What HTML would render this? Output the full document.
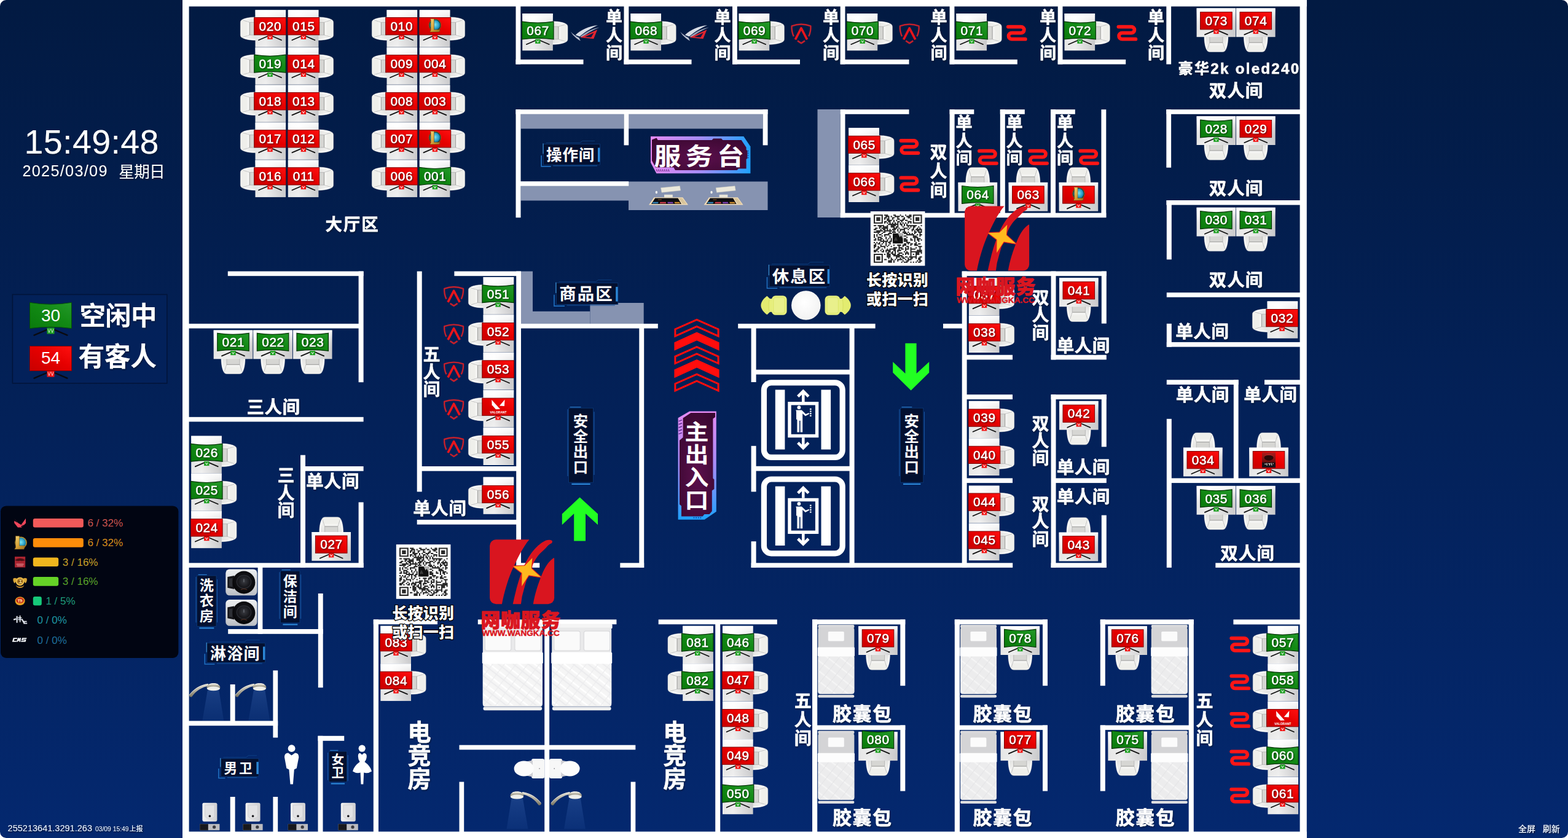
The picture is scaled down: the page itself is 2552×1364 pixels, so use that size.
<!DOCTYPE html>
<html lang="zh-CN"><head><meta charset="utf-8"><title>网咖座位图</title>
<style>
html,body{margin:0;padding:0;background:#fff;}
body{width:2552px;height:1364px;overflow:hidden;font-family:"Liberation Sans",sans-serif;}
#root{position:relative;width:2552px;height:1364px;overflow:hidden;border-radius:10px;background:linear-gradient(#021a42,#04286f);}
svg{position:absolute;left:0;top:0;}
.sn text{font-family:"Liberation Sans",sans-serif;font-size:20.7px;letter-spacing:.7px;fill:#fff;text-anchor:middle;stroke:#fff;stroke-width:.45px;}
.lp text{font-family:"Liberation Sans",sans-serif;fill:#fff;}
.zh{font-family:"Liberation Sans","Noto Sans CJK SC",sans-serif;font-weight:bold;fill:#fff;}
</style></head><body><div id="root">
<svg width="2552" height="1364" viewBox="0 0 2552 1364">
<defs>
<linearGradient id="bg" x1="0" y1="0" x2="0" y2="1"><stop offset="0" stop-color="#021a42"/><stop offset="1" stop-color="#04286f"/></linearGradient>
<linearGradient id="mr" x1="0" y1="1" x2="1" y2="0"><stop offset="0" stop-color="#c80000"/><stop offset=".55" stop-color="#e60000"/><stop offset="1" stop-color="#ff1010"/></linearGradient>
<linearGradient id="mg" x1="0" y1="1" x2="1" y2="0"><stop offset="0" stop-color="#0a7a0c"/><stop offset=".55" stop-color="#128a14"/><stop offset="1" stop-color="#24982a"/></linearGradient>
<linearGradient id="dk" x1="0" y1="0" x2="1" y2="0"><stop offset="0" stop-color="#f6f6f6"/><stop offset=".35" stop-color="#fdfdfd"/><stop offset="1" stop-color="#d6d6d8"/></linearGradient>
<linearGradient id="dv" x1="0" y1="0" x2="0" y2="1"><stop offset="0" stop-color="#fff" stop-opacity=".9"/><stop offset=".3" stop-color="#fff" stop-opacity=".2"/><stop offset="1" stop-color="#000" stop-opacity=".05"/></linearGradient>
<linearGradient id="ch" x1="0" y1="0" x2="0" y2="1"><stop offset="0" stop-color="#dcdcda"/><stop offset=".5" stop-color="#ececea"/><stop offset="1" stop-color="#fafaf8"/></linearGradient>
<filter id="ts" x="-5%" y="-5%" width="110%" height="110%"><feDropShadow dx="1" dy="1" stdDeviation="0.8" flood-color="#000" flood-opacity=".75"/></filter>
<filter id="ls" x="-5%" y="-5%" width="110%" height="110%"><feDropShadow dx="1" dy="1.5" stdDeviation="1" flood-color="#000820" flood-opacity=".6"/></filter>

<g id="chair">
<path d="M-19.4 -8 L-19.4 2 C-19.2 10 -17.8 17 -15.4 21.5 C-14.2 24 -12.4 24.7 -10 24.7 L10 24.7 C12.4 24.7 14.2 24 15.4 21.5 C17.8 17 19.2 10 19.4 2 L19.4 -8 Z" fill="url(#ch)" stroke="#c4c4c2" stroke-width=".6"/>
<path d="M-10.6 -8 L-10.6 9.6 L-14.4 20.8 C-13.6 22.8 -12.2 23.4 -10 23.4 L10 23.4 C12.2 23.4 13.6 22.8 14.4 20.8 L10.6 9.6 L10.6 -8 Z" fill="#efefeb"/>
<path d="M-10.6 -8 L-10.6 9.6 L10.6 9.6 L10.6 -8 Z" fill="#d6d6d3"/>
<path d="M-10.6 9.6 L10.6 9.6" fill="none" stroke="#8c8c8c" stroke-width="1.1" stroke-opacity=".75"/>
<path d="M-10.6 -8 L-10.6 9.6 L-14.4 20.8 M10.6 -8 L10.6 9.6 L14.4 20.8" fill="none" stroke="#9a9a9c" stroke-width=".8" stroke-opacity=".7"/>
<path d="M-10.6 10.6 L10.6 10.6 L12 14 L-12 14Z" fill="#fff" fill-opacity=".35"/>
<path d="M-18.2 -8 L-18.2 3 C-17.9 10 -16.9 16 -14.9 20" fill="none" stroke="#fff" stroke-width="1.8" stroke-opacity=".85"/>
<path d="M18.2 -8 L18.2 3 C17.9 10 16.9 16 14.9 20" fill="none" stroke="#fff" stroke-width="1.8" stroke-opacity=".85"/>
</g>

<g id="stR"><path d="M-1 .5 L-18.5 8 M1 .5 L18.5 8" stroke="#111" stroke-width="1.7" fill="none" stroke-linecap="round"/><rect x="-4.2" y="-.5" width="8.4" height="7.2" fill="#f01414"/><path d="M-1.8 1.6 L0 5 L1.8 1.6" stroke="#fff" stroke-width="1" fill="none"/></g>
<g id="stG"><path d="M-1 .5 L-18.5 8 M1 .5 L18.5 8" stroke="#111" stroke-width="1.7" fill="none" stroke-linecap="round"/><rect x="-4.2" y="-.5" width="8.4" height="7.2" fill="#1fa022"/><path d="M-1.8 1.6 L0 5 L1.8 1.6" stroke="#fff" stroke-width="1" fill="none"/></g>

<g id="rog">
<path d="M0 11.3 C3.5 17 8.5 22.2 16 26.4 L13.6 21.4 C8.4 19 3.8 15.2 0 11.3Z" fill="#b9bfd0"/>
<path d="M7.8 16.8 C16 8.6 30 2 44.2 .7 C35.5 4.6 24.5 10.4 14.6 19.4 Z" fill="#d9dde6"/>
<path d="M15.6 19.6 C25 11 36 6.2 47 4.2 C38 8 28.4 12.6 18.4 21 Z" fill="#9aa1b6"/>
<path d="M15.6 20.8 L43.4 8 L37.4 23 Z M23 20 L33.4 20.6 L37.6 13.2 Z" fill="#e3252f" fill-rule="evenodd"/>
</g>
<g id="agon" fill="none" stroke-linejoin="round">
<path d="M3.8 21.5 C1.2 16 .3 10 .6 4.6 Q16 -.9 31.4 4.6 C31.7 10 30.8 16 28.2 21.5" stroke="#c3202c" stroke-width="2.4"/>
<path d="M6.4 26.6 L16 8.2 L25.6 26.6" stroke="#e8151c" stroke-width="3.7" stroke-linejoin="round"/>
<path d="M10 28.6 L16 32.6 L22 28.6" stroke="#c3202c" stroke-width="2.6"/>
</g>
<path id="zow" d="M2.6 3.2 H23.6 A5 5 0 0 1 23.6 13.2 H8.4 A5.05 5.05 0 0 0 8.4 23.3 H30.6" fill="none" stroke="#ff1616" stroke-width="5.8" stroke-linecap="round"/>
<radialGradient id="lolb" cx=".5" cy=".45" r=".6"><stop offset="0" stop-color="#7fe6f2"/><stop offset=".6" stop-color="#2aa0c8"/><stop offset="1" stop-color="#0c587c"/></radialGradient>
<linearGradient id="lolg" x1="0" y1="0" x2="1" y2="1"><stop offset="0" stop-color="#f6d878"/><stop offset=".5" stop-color="#d9a33a"/><stop offset="1" stop-color="#9a6c1c"/></linearGradient>

<g id="lol"><circle cx="0" cy="-1.8" r="10.2" fill="#1c2a1c"/><circle cx="0" cy="-1.8" r="9.7" fill="none" stroke="#b9963c" stroke-width=".6"/><circle cx="0" cy="-1.8" r="8.4" fill="url(#lolb)"/>
<path d="M-7.9 -12.2 H-1.4 V5.6 H8.8 L6.8 9.3 H-8.3 L-6.8 6.6 V-10.6 Z" fill="url(#lolg)" stroke="#5a3c0e" stroke-width=".5"/></g>
<g id="val"><path d="M-10.4 -11.4 L3.4 3.7 L-3.6 4 L-10 -2.9Z" fill="#fff"/><path d="M10.9 -11.6 L10.3 -1.3 L2.3 -1.7Z" fill="#fff"/>
<text x=".4" y="11" font-family="Liberation Sans,sans-serif" font-weight="bold" font-size="5" fill="#fff" text-anchor="middle" textLength="27" lengthAdjust="spacingAndGlyphs">VALORANT</text></g>
<linearGradient id="nrkg" x1="0" y1="0" x2="0" y2="1"><stop offset="0" stop-color="#b01c1c"/><stop offset=".62" stop-color="#6a1010"/><stop offset=".7" stop-color="#1a1016"/><stop offset="1" stop-color="#14141c"/></linearGradient>
<g id="nrk"><rect x="-11" y="-12.4" width="22" height="24.8" fill="url(#nrkg)"/><ellipse cx="0" cy="-3.6" rx="7.5" ry="4.6" fill="#2a0808"/><path d="M-8 -6 Q0 -12 8 -6 Q4 -8 0 -8 Q-4 -8 -8 -6Z" fill="#c03030"/>
<path d="M-7 6.5 h3 M-3 5 v4 M-1 6 h3 l-1 3 M4 5 l1 4 M6.5 6 h1.5" stroke="#f0e8e0" stroke-width="1.1" fill="none"/></g>

<linearGradient id="pbh" x1="0" y1="0" x2="1" y2="0"><stop offset="0" stop-color="#e58af2"/><stop offset=".5" stop-color="#a58cf6"/><stop offset="1" stop-color="#1ea2ff"/></linearGradient>
<linearGradient id="pbv" x1="0" y1="0" x2="0" y2="1"><stop offset="0" stop-color="#e58af2"/><stop offset=".5" stop-color="#a58cf6"/><stop offset="1" stop-color="#1ea2ff"/></linearGradient>
<radialGradient id="pf" cx=".5" cy=".6" r=".7"><stop offset="0" stop-color="#5a0f4c"/><stop offset="1" stop-color="#3a0830"/></radialGradient>
<radialGradient id="tb" cx=".45" cy=".4" r=".6"><stop offset="0" stop-color="#ffffff"/><stop offset="1" stop-color="#f2f2f2"/></radialGradient>
<g id="ych"><path d="M10 -15.2 C4 -11 0 -5.4 0 0 C0 5.4 4 11 10 15.2 L15 10.6 V-10.6 Z" fill="#e3ec70"/>
<rect x="12.6" y="-10.8" width="10" height="21.6" fill="#e6ee7a"/>
<rect x="17.6" y="-15.8" width="24.6" height="31.6" rx="6.4" fill="#e7ef80"/>
<rect x="20.4" y="-12.8" width="18.4" height="25.6" rx="3.6" fill="#e9f08c" stroke="#d9e463" stroke-width=".8"/>
<path d="M13.6 -10 C12.4 -5 12.4 5 13.6 10" fill="none" stroke="#d3de5c" stroke-width=".9"/></g><g id="qr"><rect x="0" y="0" width="88.6" height="88.6" fill="#fff"/><g transform="translate(5.2 5.2) scale(2.1243)"><path d="M0 0h7v1h-7zM8 0h3v1h-3zM15 0h2v1h-2zM20 0h1v1h-1zM24 0h1v1h-1zM27 0h2v1h-2zM30 0h7v1h-7zM0 1h1v1h-1zM6 1h1v1h-1zM9 1h3v1h-3zM13 1h1v1h-1zM16 1h4v1h-4zM21 1h2v1h-2zM25 1h4v1h-4zM30 1h1v1h-1zM36 1h1v1h-1zM0 2h1v1h-1zM2 2h3v1h-3zM6 2h1v1h-1zM8 2h2v1h-2zM11 2h1v1h-1zM14 2h2v1h-2zM18 2h1v1h-1zM23 2h1v1h-1zM26 2h2v1h-2zM30 2h1v1h-1zM32 2h3v1h-3zM36 2h1v1h-1zM0 3h1v1h-1zM2 3h3v1h-3zM6 3h1v1h-1zM8 3h1v1h-1zM10 3h2v1h-2zM14 3h1v1h-1zM18 3h2v1h-2zM22 3h2v1h-2zM28 3h1v1h-1zM30 3h1v1h-1zM32 3h3v1h-3zM36 3h1v1h-1zM0 4h1v1h-1zM2 4h3v1h-3zM6 4h1v1h-1zM10 4h4v1h-4zM15 4h1v1h-1zM17 4h1v1h-1zM20 4h3v1h-3zM24 4h2v1h-2zM30 4h1v1h-1zM32 4h3v1h-3zM36 4h1v1h-1zM0 5h1v1h-1zM6 5h1v1h-1zM8 5h2v1h-2zM11 5h2v1h-2zM15 5h1v1h-1zM18 5h2v1h-2zM21 5h1v1h-1zM26 5h3v1h-3zM30 5h1v1h-1zM36 5h1v1h-1zM0 6h7v1h-7zM8 6h1v1h-1zM10 6h1v1h-1zM12 6h1v1h-1zM14 6h1v1h-1zM16 6h1v1h-1zM18 6h1v1h-1zM20 6h1v1h-1zM22 6h1v1h-1zM24 6h1v1h-1zM26 6h1v1h-1zM28 6h1v1h-1zM30 6h7v1h-7zM11 7h8v1h-8zM20 7h2v1h-2zM23 7h1v1h-1zM25 7h1v1h-1zM0 8h2v1h-2zM3 8h5v1h-5zM10 8h1v1h-1zM13 8h4v1h-4zM18 8h1v1h-1zM21 8h1v1h-1zM23 8h1v1h-1zM25 8h8v1h-8zM36 8h1v1h-1zM4 9h2v1h-2zM7 9h4v1h-4zM13 9h3v1h-3zM17 9h2v1h-2zM22 9h1v1h-1zM26 9h1v1h-1zM28 9h1v1h-1zM30 9h2v1h-2zM34 9h1v1h-1zM1 10h2v1h-2zM4 10h1v1h-1zM6 10h5v1h-5zM15 10h3v1h-3zM19 10h1v1h-1zM23 10h3v1h-3zM27 10h1v1h-1zM30 10h1v1h-1zM33 10h1v1h-1zM35 10h1v1h-1zM0 11h2v1h-2zM5 11h1v1h-1zM7 11h2v1h-2zM10 11h1v1h-1zM12 11h1v1h-1zM14 11h3v1h-3zM18 11h1v1h-1zM20 11h4v1h-4zM26 11h1v1h-1zM29 11h2v1h-2zM32 11h5v1h-5zM2 12h5v1h-5zM8 12h6v1h-6zM15 12h1v1h-1zM18 12h1v1h-1zM20 12h1v1h-1zM23 12h1v1h-1zM29 12h1v1h-1zM31 12h1v1h-1zM33 12h2v1h-2zM36 12h1v1h-1zM0 13h5v1h-5zM7 13h2v1h-2zM12 13h1v1h-1zM14 13h3v1h-3zM19 13h1v1h-1zM22 13h3v1h-3zM26 13h1v1h-1zM31 13h2v1h-2zM34 13h3v1h-3zM3 14h1v1h-1zM6 14h1v1h-1zM11 14h3v1h-3zM23 14h3v1h-3zM27 14h1v1h-1zM29 14h1v1h-1zM31 14h1v1h-1zM35 14h1v1h-1zM0 15h1v1h-1zM2 15h1v1h-1zM4 15h2v1h-2zM8 15h4v1h-4zM25 15h6v1h-6zM33 15h1v1h-1zM35 15h2v1h-2zM0 16h1v1h-1zM2 16h1v1h-1zM6 16h1v1h-1zM8 16h1v1h-1zM12 16h1v1h-1zM23 16h2v1h-2zM30 16h3v1h-3zM35 16h1v1h-1zM0 17h1v1h-1zM3 17h3v1h-3zM9 17h1v1h-1zM12 17h1v1h-1zM25 17h1v1h-1zM30 17h4v1h-4zM1 18h1v1h-1zM3 18h1v1h-1zM5 18h2v1h-2zM9 18h1v1h-1zM11 18h1v1h-1zM13 18h1v1h-1zM23 18h2v1h-2zM28 18h1v1h-1zM31 18h1v1h-1zM33 18h3v1h-3zM0 19h2v1h-2zM3 19h3v1h-3zM7 19h1v1h-1zM10 19h1v1h-1zM13 19h1v1h-1zM23 19h3v1h-3zM28 19h2v1h-2zM31 19h1v1h-1zM33 19h2v1h-2zM36 19h1v1h-1zM5 20h6v1h-6zM12 20h2v1h-2zM23 20h3v1h-3zM31 20h1v1h-1zM34 20h1v1h-1zM0 21h1v1h-1zM2 21h1v1h-1zM4 21h1v1h-1zM7 21h1v1h-1zM9 21h1v1h-1zM11 21h2v1h-2zM25 21h3v1h-3zM32 21h1v1h-1zM1 22h1v1h-1zM3 22h2v1h-2zM6 22h1v1h-1zM9 22h1v1h-1zM12 22h1v1h-1zM23 22h2v1h-2zM26 22h1v1h-1zM28 22h2v1h-2zM31 22h2v1h-2zM34 22h2v1h-2zM0 23h2v1h-2zM5 23h1v1h-1zM9 23h1v1h-1zM11 23h1v1h-1zM15 23h1v1h-1zM18 23h3v1h-3zM22 23h3v1h-3zM28 23h1v1h-1zM31 23h3v1h-3zM0 24h2v1h-2zM3 24h1v1h-1zM5 24h4v1h-4zM10 24h1v1h-1zM13 24h1v1h-1zM19 24h1v1h-1zM22 24h1v1h-1zM25 24h2v1h-2zM34 24h3v1h-3zM0 25h1v1h-1zM3 25h2v1h-2zM8 25h1v1h-1zM15 25h3v1h-3zM19 25h3v1h-3zM24 25h1v1h-1zM26 25h1v1h-1zM28 25h1v1h-1zM32 25h1v1h-1zM35 25h1v1h-1zM2 26h2v1h-2zM6 26h1v1h-1zM10 26h1v1h-1zM12 26h5v1h-5zM19 26h1v1h-1zM21 26h2v1h-2zM24 26h3v1h-3zM28 26h4v1h-4zM35 26h1v1h-1zM0 27h3v1h-3zM5 27h1v1h-1zM7 27h1v1h-1zM9 27h4v1h-4zM15 27h2v1h-2zM18 27h3v1h-3zM24 27h1v1h-1zM28 27h1v1h-1zM33 27h4v1h-4zM0 28h2v1h-2zM3 28h1v1h-1zM6 28h2v1h-2zM9 28h1v1h-1zM11 28h2v1h-2zM14 28h1v1h-1zM16 28h1v1h-1zM18 28h1v1h-1zM23 28h1v1h-1zM25 28h1v1h-1zM28 28h9v1h-9zM10 29h2v1h-2zM13 29h2v1h-2zM16 29h1v1h-1zM19 29h3v1h-3zM24 29h3v1h-3zM28 29h1v1h-1zM32 29h3v1h-3zM36 29h1v1h-1zM0 30h7v1h-7zM8 30h1v1h-1zM10 30h3v1h-3zM14 30h3v1h-3zM18 30h2v1h-2zM22 30h1v1h-1zM24 30h1v1h-1zM26 30h1v1h-1zM28 30h1v1h-1zM30 30h1v1h-1zM32 30h3v1h-3zM0 31h1v1h-1zM6 31h1v1h-1zM10 31h3v1h-3zM15 31h7v1h-7zM28 31h1v1h-1zM32 31h1v1h-1zM0 32h1v1h-1zM2 32h3v1h-3zM6 32h1v1h-1zM10 32h3v1h-3zM17 32h3v1h-3zM21 32h2v1h-2zM24 32h2v1h-2zM27 32h6v1h-6zM35 32h2v1h-2zM0 33h1v1h-1zM2 33h3v1h-3zM6 33h1v1h-1zM11 33h1v1h-1zM13 33h1v1h-1zM17 33h1v1h-1zM20 33h1v1h-1zM22 33h2v1h-2zM26 33h1v1h-1zM28 33h2v1h-2zM32 33h1v1h-1zM34 33h2v1h-2zM0 34h1v1h-1zM2 34h3v1h-3zM6 34h1v1h-1zM8 34h2v1h-2zM13 34h2v1h-2zM16 34h1v1h-1zM18 34h4v1h-4zM24 34h1v1h-1zM26 34h3v1h-3zM34 34h2v1h-2zM0 35h1v1h-1zM6 35h1v1h-1zM11 35h3v1h-3zM15 35h1v1h-1zM18 35h1v1h-1zM22 35h1v1h-1zM25 35h2v1h-2zM33 35h1v1h-1zM35 35h2v1h-2zM0 36h7v1h-7zM11 36h3v1h-3zM15 36h1v1h-1zM21 36h1v1h-1zM23 36h3v1h-3zM28 36h1v1h-1zM30 36h1v1h-1zM32 36h1v1h-1zM34 36h2v1h-2z" fill="#2a2a2a"/><rect x="14.6" y="14.4" width="7.8" height="7.8" fill="#101010"/><path d="M18.6 14.4 h3.8 v4.4 l-1.4 -2.6 l-1 1.2z" fill="#b0b0b0"/><path d="M15.4 20 l1.6 -3 l1.4 3z" fill="#3a3a3a"/></g></g><g id="logo"><g fill="#d9151f">
<path d="M10 0 H64.4 C54 12 44.4 32 35 52.8 C29 68 24 84 19.8 105 H10 A10 10 0 0 1 0 95 V10 A10 10 0 0 1 10 0Z"/>
<path d="M37.6 105 C39.5 96 42 86 43.6 79.2 C47 66 51.5 53 57.4 39.6 C62 30 69 19 75.2 13.2 C80 8.5 86 3.5 91.7 1.3 C96 0 101 0 101.8 2.8 C102.2 5 100.4 6.3 99 6.8 C96 8.5 94 10.5 91.7 13.2 C86 19 81.6 22.6 78.5 26.4 C75 31 72.5 35.5 70.6 39.6 C66 50 62.4 59.6 60 66 C57 75 55 84 52.6 92.4 L50.8 105Z"/>
<path d="M70.6 105 C73 90 78.4 72 86.6 52.8 C91 43 97 34.4 104.2 29.8 L105 30.4 V95 A10 10 0 0 1 95 105Z"/></g>
<path d="M70 28.4 L68.4 46.8 L85.1 62 L63.8 58.6 L51.5 77.9 L51.8 54.6 L36.3 42.9 L56.4 42.2Z" fill="#ffb91e" stroke="#d9151f" stroke-width="1.2" stroke-linejoin="round"/>
<text x="-14.9" y="142.6" font-family="Liberation Sans,Noto Sans CJK SC,sans-serif" font-weight="900" font-size="32" letter-spacing=".7" fill="#da1620" stroke="#da1620" stroke-width=".9" stroke-linejoin="round" paint-order="stroke">网咖服务</text>
<text x="50.4" y="157.2" font-family="Liberation Sans,sans-serif" font-weight="bold" font-size="13.2" fill="#da1620" stroke="#da1620" stroke-width=".45" text-anchor="middle" textLength="126.6" lengthAdjust="spacingAndGlyphs">WWW.WANGKA.CC</text>
</g><g id="pos">
<path d="M19.8 3.4 L50.6 .4 L51.8 7.6 L21.2 10.8Z" fill="#ece9dc" stroke="#d9d4c2" stroke-width=".5"/>
<ellipse cx="12.6" cy="10.6" rx="1.7" ry="2.2" fill="#f4f4f0"/>
<rect x="25.2" y="14.4" width="13.8" height="4.2" fill="#e9e6da"/>
<path d="M8.6 18.8 H55.4 L64.2 31 H.2Z" fill="#f1dcb8"/>
<path d="M10.4 20.2 H47.6 L53.2 29.6 H4.2Z" fill="#0c0c10"/>
<path d="M48.8 20.2 H54.6 L61.8 29.6 H55Z" fill="#d8c49a"/>
<path d="M7 26.4 h9 l-1 2.4 h-9.4z" fill="#2f7fb4"/><path d="M18.6 26.4 h9.4 l.4 2.4 h-10.4z" fill="#c63a4a"/><path d="M30.6 26.4 h8.6 l1 2.4 h-9.2z" fill="#7a3fb0"/><path d="M41.8 26.4 h8 l1.6 2.4 h-8.8z" fill="#c98a2c"/>
<path d="M15 22.6 h6" stroke="#b06a2a" stroke-width=".8"/>
</g><linearGradient id="wm" x1="0" y1="0" x2="0" y2="1"><stop offset="0" stop-color="#eceef0"/><stop offset=".7" stop-color="#cfd2d6"/><stop offset="1" stop-color="#b9bcc2"/></linearGradient>
<radialGradient id="wd" cx=".5" cy=".45" r=".55"><stop offset="0" stop-color="#3a3c42"/><stop offset=".55" stop-color="#121216"/><stop offset="1" stop-color="#050507"/></radialGradient>
<g id="wash"><rect x="0" y="0" width="51.2" height="42.8" rx="6.4" ry="6.4" fill="url(#wm)"/>
<path d="M3 12.6 L14 10.4 V32.6 L3 30.2 Z" fill="#141418"/><path d="M5.6 15.4 L11 14.4 V28.8 L5.6 27.8Z" fill="#2c2e34"/>
<circle cx="29.7" cy="21.5" r="18.4" fill="url(#wd)"/><ellipse cx="29.7" cy="20.6" rx="11.6" ry="10.6" fill="none" stroke="#2a2c32" stroke-width="1.4"/>
<path d="M29.6 16 v5" stroke="#6a6e76" stroke-width="1.3"/><path d="M24.6 33.6 q5 -3.4 10 0" stroke="#4a2c20" stroke-width="1.2" fill="none"/></g><linearGradient id="shm" x1="0" y1="0" x2="0" y2="1"><stop offset="0" stop-color="#e4e1d6"/><stop offset=".45" stop-color="#b9b5a6"/><stop offset="1" stop-color="#77725f"/></linearGradient>
<linearGradient id="shw" x1="0" y1="0" x2="0" y2="1"><stop offset="0" stop-color="#4a78c4" stop-opacity=".3"/><stop offset="1" stop-color="#3a68b8" stop-opacity=".13"/></linearGradient>
<g id="shower">
<path d="M30.2 11.2 L48.8 11.2 L56.6 60.4 L21.8 60.4 Z" fill="url(#shw)"/>
<path d="M.2 18.6 C7 9.4 17 2.2 31 .1 L33.2 3.6 C20.4 5.6 10.8 12.4 4.6 21.6 C2.8 22.6 .2 21.2 .2 18.6Z" fill="url(#shm)"/>
<path d="M.8 18.4 C7.4 9.8 17.2 3 31 .9" fill="none" stroke="#f0eee6" stroke-width=".9" stroke-opacity=".8"/>
<path d="M28.8 6.8 C28.8 1.8 34 -.5 40 -.5 C46 -.5 50.6 2 50.8 7 C50.8 8.6 28.8 8.6 28.8 6.8Z" fill="url(#shm)"/>
<path d="M33 1.4 C36 0.2 44 0.2 47 1.6" fill="none" stroke="#fbfaf4" stroke-width="1.4" stroke-opacity=".85"/>
<ellipse cx="39.8" cy="8.2" rx="10.7" ry="3.4" fill="#efefea"/></g><linearGradient id="sq" x1="0" y1="0" x2="1" y2="0"><stop offset="0" stop-color="#f2f2f2"/><stop offset="1" stop-color="#cfcfd2"/></linearGradient>
<g id="squat"><rect x="4.2" y="0" width="24" height="30.4" rx="2.4" fill="url(#sq)"/><path d="M8.4 3.4 h15.6 v17.6 c0 6 -15.6 6 -15.6 0z" fill="#e2e2e4" stroke="#c4c4c8" stroke-width=".6"/><circle cx="16.2" cy="21.6" r="1.8" fill="#1a1a1e"/>
<rect x="0" y="34.4" width="32.2" height="10.2" fill="#bcbcc0"/><rect x="0" y="34.4" width="13.6" height="10.2" fill="#18181c"/><circle cx="23.4" cy="39.4" r="2.6" fill="#3a3a40"/></g><g id="wc"><rect x="28.4" y="0" width="21.2" height="32" rx="3" fill="#f7f7f7"/><path d="M20 4.6 L30.4 2.6 V29.4 L20 27.4Z" fill="#cfcfd4"/>
<ellipse cx="16.1" cy="16" rx="16.1" ry="12.5" fill="#fcfcfc"/><circle cx="41.4" cy="16" r=".9" fill="#9a9aa0"/></g><pattern id="quilt" width="15" height="15" patternUnits="userSpaceOnUse" patternTransform="rotate(38)"><rect width="15" height="15" fill="#f5f5f5"/><path d="M0 0 H15" stroke="#fff" stroke-width="5"/><path d="M0 7.5 H15" stroke="#e9e9eb" stroke-width="1.6"/><path d="M7.5 0 V15" stroke="#ececee" stroke-width="1.2"/></pattern>
<pattern id="quilt2" width="13" height="13" patternUnits="userSpaceOnUse" patternTransform="rotate(38)"><rect width="13" height="13" fill="#ececed"/><path d="M0 0 H13" stroke="#f5f5f5" stroke-width="4.6"/><path d="M6.5 0 V13" stroke="#e4e4e6" stroke-width="1"/></pattern>
<g id="i_val"><path d="M-9.4 -7.4 L.6 5 H5.4 L-9.4 -3.4Z M-9.4 -7.4 V0 L-3.6 7.4 H3.2Z" fill="#f0465a"/><path d="M9.4 -7.4 V0 L6.4 3.6 H1.4Z" fill="#f0465a"/></g>
<g id="i_lol"><circle cx="1.4" cy="0" r="9.8" fill="#b8902e"/><circle cx="1.4" cy="0" r="8.2" fill="url(#lolb)"/><path d="M-7.2 -11 H-1 V4.8 H8.6 L6.4 10.6 H-9 L-7.2 7.8Z" fill="url(#lolg)" stroke="#6a4a12" stroke-width=".5"/></g>
<g id="i_nrk"><rect x="-8.6" y="-8.8" width="17.2" height="17.6" fill="#a82430"/><path d="M-8.6 -3 Q0 -9 8.6 -3 Q4 -1 0 -2 Q-4 -1 -8.6 -3Z" fill="#4a0e14"/><path d="M-6 3.6 h12 M-5 6 h10" stroke="#e08a90" stroke-width="1.2"/></g>
<g id="i_pubg"><path d="M-11 -5 Q-6 -7 -4 -3 L-9 3 Q-12 -1 -11 -5Z M11 -5 Q6 -7 4 -3 L9 3 Q12 -1 11 -5Z" fill="#d9a638"/><circle cx="0" cy="0" r="7" fill="#e8b848"/><circle cx="0" cy="0" r="4.4" fill="#8a5a16"/><path d="M-2 -2.4 h4 l-1.6 2 1.8 2.6 h-4.4" fill="none" stroke="#f6dc8c" stroke-width="1.2"/><path d="M-7 6 Q0 11 7 6 L5 9 Q0 12 -5 9Z" fill="#c98e2a"/></g>
<g id="i_cf"><ellipse cx="0" cy="0" rx="8" ry="7" fill="#e8a020"/><ellipse cx="0" cy="-1" rx="6.4" ry="4.6" fill="#c8301c"/><path d="M-4 -2 h7 M-2 -2 v4 M1.4 -2 v4 M1.4 0 h2.6" stroke="#ffe49a" stroke-width="1.3" fill="none"/></g>
<g id="i_yj" fill="#e8ecf4"><path d="M-11 -1 l4 -1.6 l1 2 l-4 1.6z M-6 -6 h2 v11 h-2z M-3.4 -4 h6 v1.6 h-6z M-3.4 -1 h6 v1.4 h-6z M-.8 -7 h1.6 v11 h-1.6z M3.6 -2 l5 8 h-2.6 l-3.6 -6z M4 2 h7 v1.6 h-7z M5.6 5 h6 v1.6 h-6z"/></g>
<g id="i_cs" fill="#f2f4f8"><path d="M-11 -3.4 h6.6 l-.6 1.8 h-4 l-.8 3 h4 l-.6 1.8 h-6.4z M-3.4 -3.4 h2.2 l-.8 2.4 1.6 -2.4 h2 l-1 6.6 h-2 l.4 -2.6 -1.2 1.6 h-1 l.2 -1.6 -1 2.6 h-2z M3.4 -3.4 h7.6 l-.6 1.8 h-5.4 l-.2 .8 h5.2 l-1 4 h-7.6 l.6 -1.8 h5.2 l.2 -.8 h-5.2z"/></g>
</defs>

<g fill="#8693b1"><rect x="847.5" y="185.5" width="168" height="24" fill="#8693b1"/><rect x="1023" y="185.5" width="218.5" height="24" fill="#8693b1"/><rect x="847.5" y="302.5" width="175.5" height="24" fill="#8693b1"/><rect x="1023" y="295.5" width="226.5" height="46.5" fill="#8693b1"/><rect x="1330.5" y="178" width="37" height="176" fill="#8693b1"/><rect x="848" y="441.6" width="19" height="85.4" fill="#8693b1"/><rect x="867" y="506.8" width="93.4" height="20.2" fill="#8693b1"/><rect x="960.4" y="493" width="87.3" height="34" fill="#8693b1"/></g><g fill="#fff"><rect x="297" y="0" width="10.6" height="1364"/><rect x="2115.6" y="0" width="11.2" height="1364"/><rect x="297" y="0" width="1829.8" height="10.5"/><rect x="297" y="1353.6" width="1829.8" height="10.4"/><rect x="839.5" y="10" width="7.8" height="94.6"/><rect x="839.5" y="96.9" width="110" height="7.7"/><rect x="1015.5" y="10" width="7.8" height="94.6"/><rect x="1015.5" y="96.9" width="110" height="7.7"/><rect x="1192" y="10" width="7.8" height="94.6"/><rect x="1192" y="96.9" width="110" height="7.7"/><rect x="1367.7" y="10" width="7.8" height="94.6"/><rect x="1367.7" y="96.9" width="111.8" height="7.7"/><rect x="1545.6" y="10" width="7.8" height="94.6"/><rect x="1545.6" y="96.9" width="110.2" height="7.7"/><rect x="1721.7" y="10" width="7.8" height="94.6"/><rect x="1721.7" y="96.9" width="110.5" height="7.7"/><rect x="1898.3" y="10" width="7.8" height="94.6"/><rect x="839.5" y="178.2" width="410" height="7.6"/><rect x="839.5" y="178.2" width="8" height="176"/><rect x="1015.5" y="185" width="7.7" height="51.4"/><rect x="1241.6" y="178.2" width="7.9" height="58.2"/><rect x="847" y="295.2" width="176.2" height="7.6"/><rect x="1367.7" y="178.2" width="7.8" height="176"/><rect x="1367.7" y="178.2" width="111.8" height="7.6"/><rect x="1367.7" y="346.6" width="432.6" height="7.6"/><rect x="1545.6" y="178.2" width="8" height="175.8"/><rect x="1627.8" y="178.2" width="8" height="175.8"/><rect x="1710" y="178.2" width="8" height="175.8"/><rect x="1792.4" y="178.2" width="7.9" height="175.8"/><rect x="1545.6" y="178.2" width="39.7" height="7.6"/><rect x="1627.8" y="178.2" width="40" height="7.6"/><rect x="1710" y="178.2" width="39.8" height="7.6"/><rect x="1898.3" y="178.2" width="217.7" height="7.6"/><rect x="1898.3" y="178.2" width="7.8" height="94.6"/><rect x="1898.3" y="326" width="217.7" height="7.6"/><rect x="1898.8" y="333" width="8" height="89.4"/><rect x="1898.8" y="476.2" width="217.2" height="7.6"/><rect x="1898.8" y="526.8" width="8" height="37.8"/><rect x="1898.8" y="556.9" width="217.2" height="7.7"/><rect x="1898.8" y="618.3" width="116.8" height="7.7"/><rect x="2007.8" y="618.3" width="7.8" height="167.7"/><rect x="2058" y="618.3" width="58" height="7.7"/><rect x="1898.8" y="681.8" width="8" height="242.1"/><rect x="1906" y="778.4" width="210" height="7.7"/><rect x="1978.3" y="916.3" width="137.7" height="7.6"/><rect x="370.8" y="441.6" width="220.8" height="7.6"/><rect x="583.6" y="441.6" width="8" height="180.6"/><rect x="307" y="526.9" width="284" height="7.6"/><rect x="307" y="678.8" width="284.6" height="7.6"/><rect x="489" y="740.7" width="8" height="183.2"/><rect x="496" y="759" width="95.6" height="7.7"/><rect x="583.6" y="817.5" width="8" height="106.4"/><rect x="307" y="916.3" width="284.6" height="7.6"/><rect x="419.6" y="923" width="7.8" height="108.8"/><rect x="371.2" y="1024" width="154.5" height="7.8"/><rect x="517.8" y="966" width="7.9" height="153.2"/><rect x="444.4" y="1091.3" width="7.8" height="109.3"/><rect x="374.7" y="1114" width="7.9" height="67"/><rect x="307" y="1173.4" width="145.2" height="7.8"/><rect x="374.7" y="1297" width="7.9" height="57"/><rect x="444.4" y="1297" width="7.8" height="57"/><rect x="517.5" y="1197.8" width="8" height="156.2"/><rect x="517.5" y="1197.8" width="42.7" height="8"/><rect x="678.7" y="441.6" width="8" height="358.8"/><rect x="739.4" y="441.6" width="108.6" height="7.6"/><rect x="840.2" y="441.6" width="7.8" height="482.3"/><rect x="847" y="916.3" width="31.2" height="7.6"/><rect x="686" y="759" width="162" height="7.7"/><rect x="678.7" y="846" width="169.3" height="7.7"/><rect x="847" y="526.9" width="223.8" height="7.6"/><rect x="1040.3" y="534" width="7.9" height="389.9"/><rect x="1009.3" y="916.3" width="38.9" height="7.6"/><rect x="1201.2" y="526.9" width="223.4" height="7.6"/><rect x="1222.6" y="534" width="8" height="88"/><rect x="1382.6" y="534" width="8" height="389.9"/><rect x="1230" y="601.7" width="153" height="7.8"/><rect x="1222.6" y="725.8" width="8" height="74.6"/><rect x="1230" y="758.8" width="153" height="7.8"/><rect x="1222.6" y="881.2" width="8" height="42.7"/><rect x="1222.6" y="916.3" width="425.6" height="7.6"/><rect x="1565.7" y="441.6" width="235.1" height="7.6"/><rect x="1565.7" y="441.6" width="7.9" height="482.3"/><rect x="1710.6" y="441.6" width="7.9" height="143.8"/><rect x="1792.8" y="441.6" width="8" height="85"/><rect x="1710.6" y="577.7" width="90.2" height="7.7"/><rect x="1573" y="577.7" width="75" height="7.7"/><rect x="1535" y="526.9" width="31" height="7.6"/><rect x="1573" y="642.2" width="75" height="7.8"/><rect x="1710.6" y="642.2" width="90.2" height="7.8"/><rect x="1710.6" y="642.2" width="7.9" height="281.7"/><rect x="1792.8" y="642.2" width="8" height="85.1"/><rect x="1573" y="778.4" width="75" height="7.7"/><rect x="1718" y="778.4" width="82.8" height="7.7"/><rect x="1792.8" y="838.6" width="8" height="85.3"/><rect x="1710.6" y="916.3" width="90.2" height="7.6"/><rect x="607.8" y="1008.4" width="8.2" height="345.6"/><rect x="607.8" y="1008.4" width="104.2" height="7.8"/><rect x="777.8" y="1008.4" width="225.6" height="7.8"/><rect x="886.2" y="1016" width="7.9" height="338"/><rect x="747.5" y="1212.7" width="286.8" height="7.6"/><rect x="747.5" y="1272.6" width="7.7" height="81.4"/><rect x="1026.6" y="1272.6" width="7.7" height="81.4"/><rect x="1071.7" y="1008.4" width="193.1" height="7.8"/><rect x="1164.2" y="1016" width="8" height="338"/><rect x="1322" y="1008.4" width="8.2" height="345.6"/><rect x="1322" y="1008.4" width="151.3" height="8"/><rect x="1465.3" y="1008.4" width="8" height="107.8"/><rect x="1330" y="1180.5" width="143.3" height="7.6"/><rect x="1465.3" y="1180.5" width="8" height="107.1"/><rect x="1553.8" y="1008.4" width="8.2" height="345.6"/><rect x="1553.8" y="1008.4" width="151.2" height="8"/><rect x="1697" y="1008.4" width="8" height="107.8"/><rect x="1561" y="1180.5" width="144" height="7.6"/><rect x="1697" y="1180.5" width="8" height="107.1"/><rect x="1790.8" y="1008.4" width="152" height="8"/><rect x="1790.8" y="1008.4" width="8" height="107.8"/><rect x="1934.7" y="1008.4" width="8.1" height="345.6"/><rect x="1790.8" y="1180.5" width="144.2" height="7.6"/><rect x="1790.8" y="1180.5" width="8" height="107.1"/><rect x="2007.4" y="1008.4" width="108.6" height="8"/></g><g><use href="#chair" transform="translate(416 46.7) rotate(90) scale(.968 1)"/><rect x="415.5" y="16.3" width="49.6" height="60.4" fill="url(#dk)"/><rect x="415.5" y="16.3" width="49.6" height="60.4" fill="url(#dv)"/><use href="#stR" x="439.5" y="57.3"/><rect x="413.7" y="28.6" width="51.6" height="28.2" fill="url(#mr)" stroke="#7d0000" stroke-width="1"/><use href="#chair" transform="translate(416 107.7) rotate(90) scale(.968 1)"/><rect x="415.5" y="77.3" width="49.6" height="60.4" fill="url(#dk)"/><rect x="415.5" y="77.3" width="49.6" height="60.4" fill="url(#dv)"/><use href="#stG" x="439.5" y="118.3"/><path d="M413.8 89.2 Q439.5 93.4 465.2 89.2 L465.2 118.1 Q439.5 114.5 413.8 118.1 Z" fill="url(#mg)" stroke="#033205" stroke-width="1.2"/><use href="#chair" transform="translate(416 168.8) rotate(90) scale(.968 1)"/><rect x="415.5" y="138.4" width="49.6" height="60.4" fill="url(#dk)"/><rect x="415.5" y="138.4" width="49.6" height="60.4" fill="url(#dv)"/><use href="#stR" x="439.5" y="179.4"/><rect x="413.7" y="150.7" width="51.6" height="28.2" fill="url(#mr)" stroke="#7d0000" stroke-width="1"/><use href="#chair" transform="translate(416 229.8) rotate(90) scale(.968 1)"/><rect x="415.5" y="199.4" width="49.6" height="60.4" fill="url(#dk)"/><rect x="415.5" y="199.4" width="49.6" height="60.4" fill="url(#dv)"/><use href="#stR" x="439.5" y="240.4"/><rect x="413.7" y="211.8" width="51.6" height="28.2" fill="url(#mr)" stroke="#7d0000" stroke-width="1"/><use href="#chair" transform="translate(416 290.9) rotate(90) scale(.968 1)"/><rect x="415.5" y="260.5" width="49.6" height="60.4" fill="url(#dk)"/><rect x="415.5" y="260.5" width="49.6" height="60.4" fill="url(#dv)"/><use href="#stR" x="439.5" y="301.5"/><rect x="413.7" y="272.8" width="51.6" height="28.2" fill="url(#mr)" stroke="#7d0000" stroke-width="1"/><use href="#chair" transform="translate(517.9 46.7) rotate(-90) scale(.968 1)"/><rect x="468.8" y="16.3" width="49.6" height="60.4" fill="url(#dk)"/><rect x="468.8" y="16.3" width="49.6" height="60.4" fill="url(#dv)"/><use href="#stR" x="493.9" y="57.3"/><rect x="468.1" y="28.6" width="51.6" height="28.2" fill="url(#mr)" stroke="#7d0000" stroke-width="1"/><use href="#chair" transform="translate(517.9 107.7) rotate(-90) scale(.968 1)"/><rect x="468.8" y="77.3" width="49.6" height="60.4" fill="url(#dk)"/><rect x="468.8" y="77.3" width="49.6" height="60.4" fill="url(#dv)"/><use href="#stR" x="493.9" y="118.3"/><rect x="468.1" y="89.6" width="51.6" height="28.2" fill="url(#mr)" stroke="#7d0000" stroke-width="1"/><use href="#chair" transform="translate(517.9 168.8) rotate(-90) scale(.968 1)"/><rect x="468.8" y="138.4" width="49.6" height="60.4" fill="url(#dk)"/><rect x="468.8" y="138.4" width="49.6" height="60.4" fill="url(#dv)"/><use href="#stR" x="493.9" y="179.4"/><rect x="468.1" y="150.7" width="51.6" height="28.2" fill="url(#mr)" stroke="#7d0000" stroke-width="1"/><use href="#chair" transform="translate(517.9 229.8) rotate(-90) scale(.968 1)"/><rect x="468.8" y="199.4" width="49.6" height="60.4" fill="url(#dk)"/><rect x="468.8" y="199.4" width="49.6" height="60.4" fill="url(#dv)"/><use href="#stR" x="493.9" y="240.4"/><rect x="468.1" y="211.8" width="51.6" height="28.2" fill="url(#mr)" stroke="#7d0000" stroke-width="1"/><use href="#chair" transform="translate(517.9 290.9) rotate(-90) scale(.968 1)"/><rect x="468.8" y="260.5" width="49.6" height="60.4" fill="url(#dk)"/><rect x="468.8" y="260.5" width="49.6" height="60.4" fill="url(#dv)"/><use href="#stR" x="493.9" y="301.5"/><rect x="468.1" y="272.8" width="51.6" height="28.2" fill="url(#mr)" stroke="#7d0000" stroke-width="1"/><use href="#chair" transform="translate(630 46.7) rotate(90) scale(.968 1)"/><rect x="629.5" y="16.3" width="49.6" height="60.4" fill="url(#dk)"/><rect x="629.5" y="16.3" width="49.6" height="60.4" fill="url(#dv)"/><use href="#stR" x="653.5" y="57.3"/><rect x="627.7" y="28.6" width="51.6" height="28.2" fill="url(#mr)" stroke="#7d0000" stroke-width="1"/><use href="#chair" transform="translate(630 107.7) rotate(90) scale(.968 1)"/><rect x="629.5" y="77.3" width="49.6" height="60.4" fill="url(#dk)"/><rect x="629.5" y="77.3" width="49.6" height="60.4" fill="url(#dv)"/><use href="#stR" x="653.5" y="118.3"/><rect x="627.7" y="89.6" width="51.6" height="28.2" fill="url(#mr)" stroke="#7d0000" stroke-width="1"/><use href="#chair" transform="translate(630 168.8) rotate(90) scale(.968 1)"/><rect x="629.5" y="138.4" width="49.6" height="60.4" fill="url(#dk)"/><rect x="629.5" y="138.4" width="49.6" height="60.4" fill="url(#dv)"/><use href="#stR" x="653.5" y="179.4"/><rect x="627.7" y="150.7" width="51.6" height="28.2" fill="url(#mr)" stroke="#7d0000" stroke-width="1"/><use href="#chair" transform="translate(630 229.8) rotate(90) scale(.968 1)"/><rect x="629.5" y="199.4" width="49.6" height="60.4" fill="url(#dk)"/><rect x="629.5" y="199.4" width="49.6" height="60.4" fill="url(#dv)"/><use href="#stR" x="653.5" y="240.4"/><rect x="627.7" y="211.8" width="51.6" height="28.2" fill="url(#mr)" stroke="#7d0000" stroke-width="1"/><use href="#chair" transform="translate(630 290.9) rotate(90) scale(.968 1)"/><rect x="629.5" y="260.5" width="49.6" height="60.4" fill="url(#dk)"/><rect x="629.5" y="260.5" width="49.6" height="60.4" fill="url(#dv)"/><use href="#stR" x="653.5" y="301.5"/><rect x="627.7" y="272.8" width="51.6" height="28.2" fill="url(#mr)" stroke="#7d0000" stroke-width="1"/><use href="#chair" transform="translate(731.9 46.7) rotate(-90) scale(.968 1)"/><rect x="682.8" y="16.3" width="49.6" height="60.4" fill="url(#dk)"/><rect x="682.8" y="16.3" width="49.6" height="60.4" fill="url(#dv)"/><use href="#stR" x="707.9" y="57.3"/><rect x="682.1" y="28.6" width="51.6" height="28.2" fill="url(#mr)" stroke="#7d0000" stroke-width="1"/><use href="#lol" x="707.9" y="42.7"/><use href="#chair" transform="translate(731.9 107.7) rotate(-90) scale(.968 1)"/><rect x="682.8" y="77.3" width="49.6" height="60.4" fill="url(#dk)"/><rect x="682.8" y="77.3" width="49.6" height="60.4" fill="url(#dv)"/><use href="#stR" x="707.9" y="118.3"/><rect x="682.1" y="89.6" width="51.6" height="28.2" fill="url(#mr)" stroke="#7d0000" stroke-width="1"/><use href="#chair" transform="translate(731.9 168.8) rotate(-90) scale(.968 1)"/><rect x="682.8" y="138.4" width="49.6" height="60.4" fill="url(#dk)"/><rect x="682.8" y="138.4" width="49.6" height="60.4" fill="url(#dv)"/><use href="#stR" x="707.9" y="179.4"/><rect x="682.1" y="150.7" width="51.6" height="28.2" fill="url(#mr)" stroke="#7d0000" stroke-width="1"/><use href="#chair" transform="translate(731.9 229.8) rotate(-90) scale(.968 1)"/><rect x="682.8" y="199.4" width="49.6" height="60.4" fill="url(#dk)"/><rect x="682.8" y="199.4" width="49.6" height="60.4" fill="url(#dv)"/><use href="#stR" x="707.9" y="240.4"/><rect x="682.1" y="211.8" width="51.6" height="28.2" fill="url(#mr)" stroke="#7d0000" stroke-width="1"/><use href="#lol" x="707.9" y="225.8"/><use href="#chair" transform="translate(731.9 290.9) rotate(-90) scale(.968 1)"/><rect x="682.8" y="260.5" width="49.6" height="60.4" fill="url(#dk)"/><rect x="682.8" y="260.5" width="49.6" height="60.4" fill="url(#dv)"/><use href="#stG" x="707.9" y="301.5"/><path d="M682.2 272.4 Q707.9 276.6 733.6 272.4 L733.6 301.3 Q707.9 297.7 682.2 301.3 Z" fill="url(#mg)" stroke="#033205" stroke-width="1.2"/><use href="#chair" transform="translate(899.3 53.6) rotate(-90) scale(.968 1)"/><rect x="850.2" y="22" width="49.6" height="60.3" fill="url(#dk)"/><rect x="850.2" y="22" width="49.6" height="60.3" fill="url(#dv)"/><use href="#stG" x="875.3" y="64.2"/><path d="M849.6 35.1 Q875.3 39.3 901 35.1 L901 64 Q875.3 60.4 849.6 64 Z" fill="url(#mg)" stroke="#033205" stroke-width="1.2"/><use href="#chair" transform="translate(1075.5 53.6) rotate(-90) scale(.968 1)"/><rect x="1026.4" y="22" width="49.6" height="60.3" fill="url(#dk)"/><rect x="1026.4" y="22" width="49.6" height="60.3" fill="url(#dv)"/><use href="#stG" x="1051.5" y="64.2"/><path d="M1025.8 35.1 Q1051.5 39.3 1077.2 35.1 L1077.2 64 Q1051.5 60.4 1025.8 64 Z" fill="url(#mg)" stroke="#033205" stroke-width="1.2"/><use href="#chair" transform="translate(1251.7 53.6) rotate(-90) scale(.968 1)"/><rect x="1202.6" y="22" width="49.6" height="60.3" fill="url(#dk)"/><rect x="1202.6" y="22" width="49.6" height="60.3" fill="url(#dv)"/><use href="#stG" x="1227.7" y="64.2"/><path d="M1202 35.1 Q1227.7 39.3 1253.4 35.1 L1253.4 64 Q1227.7 60.4 1202 64 Z" fill="url(#mg)" stroke="#033205" stroke-width="1.2"/><use href="#chair" transform="translate(1427.7 53.6) rotate(-90) scale(.968 1)"/><rect x="1378.6" y="22" width="49.6" height="60.3" fill="url(#dk)"/><rect x="1378.6" y="22" width="49.6" height="60.3" fill="url(#dv)"/><use href="#stG" x="1403.7" y="64.2"/><path d="M1378 35.1 Q1403.7 39.3 1429.4 35.1 L1429.4 64 Q1403.7 60.4 1378 64 Z" fill="url(#mg)" stroke="#033205" stroke-width="1.2"/><use href="#chair" transform="translate(1605.5 53.6) rotate(-90) scale(.968 1)"/><rect x="1556.4" y="22" width="49.6" height="60.3" fill="url(#dk)"/><rect x="1556.4" y="22" width="49.6" height="60.3" fill="url(#dv)"/><use href="#stG" x="1581.5" y="64.2"/><path d="M1555.8 35.1 Q1581.5 39.3 1607.2 35.1 L1607.2 64 Q1581.5 60.4 1555.8 64 Z" fill="url(#mg)" stroke="#033205" stroke-width="1.2"/><use href="#chair" transform="translate(1781.6 53.6) rotate(-90) scale(.968 1)"/><rect x="1732.5" y="22" width="49.6" height="60.3" fill="url(#dk)"/><rect x="1732.5" y="22" width="49.6" height="60.3" fill="url(#dv)"/><use href="#stG" x="1757.6" y="64.2"/><path d="M1731.9 35.1 Q1757.6 39.3 1783.3 35.1 L1783.3 64 Q1757.6 60.4 1731.9 64 Z" fill="url(#mg)" stroke="#033205" stroke-width="1.2"/><use href="#chair" transform="translate(1430.4 239.4) rotate(-90) scale(.968 1)"/><rect x="1381.3" y="208.2" width="49.6" height="60.3" fill="url(#dk)"/><rect x="1381.3" y="208.2" width="49.6" height="60.3" fill="url(#dv)"/><use href="#stR" x="1406.4" y="250"/><rect x="1380.6" y="221.3" width="51.6" height="28.2" fill="url(#mr)" stroke="#7d0000" stroke-width="1"/><use href="#chair" transform="translate(1430.4 299.9) rotate(-90) scale(.968 1)"/><rect x="1381.3" y="268.7" width="49.6" height="60.3" fill="url(#dk)"/><rect x="1381.3" y="268.7" width="49.6" height="60.3" fill="url(#dv)"/><use href="#stR" x="1406.4" y="310.5"/><rect x="1380.6" y="281.8" width="51.6" height="28.2" fill="url(#mr)" stroke="#7d0000" stroke-width="1"/><use href="#chair" transform="translate(1591.3 297.4) rotate(180)"/><rect x="1559.5" y="296.9" width="63.6" height="46.8" fill="url(#dk)"/><rect x="1559.5" y="296.9" width="63.6" height="46.8" fill="url(#dv)"/><use href="#stG" x="1591.3" y="331.6"/><path d="M1565.6 302.5 Q1591.3 306.7 1617 302.5 L1617 331.4 Q1591.3 327.8 1565.6 331.4 Z" fill="url(#mg)" stroke="#033205" stroke-width="1.2"/><use href="#chair" transform="translate(1673.4 297.4) rotate(180)"/><rect x="1641.6" y="296.9" width="63.6" height="46.8" fill="url(#dk)"/><rect x="1641.6" y="296.9" width="63.6" height="46.8" fill="url(#dv)"/><use href="#stR" x="1673.4" y="331.6"/><rect x="1647.6" y="302.9" width="51.6" height="28.2" fill="url(#mr)" stroke="#7d0000" stroke-width="1"/><use href="#chair" transform="translate(1755.4 297.4) rotate(180)"/><rect x="1723.6" y="296.9" width="63.6" height="46.8" fill="url(#dk)"/><rect x="1723.6" y="296.9" width="63.6" height="46.8" fill="url(#dv)"/><use href="#stR" x="1755.4" y="331.6"/><rect x="1729.6" y="302.9" width="51.6" height="28.2" fill="url(#mr)" stroke="#7d0000" stroke-width="1"/><use href="#lol" x="1755.4" y="317"/><use href="#chair" transform="translate(1979.4 59.7)"/><rect x="1947.6" y="13.4" width="63.6" height="46.8" fill="url(#dk)"/><rect x="1947.6" y="13.4" width="63.6" height="46.8" fill="url(#dv)"/><use href="#stR" x="1979.4" y="48.4"/><rect x="1953.6" y="19.7" width="51.6" height="28.2" fill="url(#mr)" stroke="#7d0000" stroke-width="1"/><use href="#chair" transform="translate(2043.8 59.7)"/><rect x="2012" y="13.4" width="63.6" height="46.8" fill="url(#dk)"/><rect x="2012" y="13.4" width="63.6" height="46.8" fill="url(#dv)"/><use href="#stR" x="2043.8" y="48.4"/><rect x="2018" y="19.7" width="51.6" height="28.2" fill="url(#mr)" stroke="#7d0000" stroke-width="1"/><use href="#chair" transform="translate(1979.4 235.5)"/><rect x="1947.6" y="189.2" width="63.6" height="46.8" fill="url(#dk)"/><rect x="1947.6" y="189.2" width="63.6" height="46.8" fill="url(#dv)"/><use href="#stG" x="1979.4" y="224.2"/><path d="M1953.7 195.1 Q1979.4 199.3 2005.1 195.1 L2005.1 224 Q1979.4 220.4 1953.7 224 Z" fill="url(#mg)" stroke="#033205" stroke-width="1.2"/><use href="#chair" transform="translate(2043.8 235.5)"/><rect x="2012" y="189.2" width="63.6" height="46.8" fill="url(#dk)"/><rect x="2012" y="189.2" width="63.6" height="46.8" fill="url(#dv)"/><use href="#stR" x="2043.8" y="224.2"/><rect x="2018" y="195.5" width="51.6" height="28.2" fill="url(#mr)" stroke="#7d0000" stroke-width="1"/><use href="#chair" transform="translate(1979.4 384.1)"/><rect x="1947.6" y="337.8" width="63.6" height="46.8" fill="url(#dk)"/><rect x="1947.6" y="337.8" width="63.6" height="46.8" fill="url(#dv)"/><use href="#stG" x="1979.4" y="372.8"/><path d="M1953.7 343.7 Q1979.4 347.9 2005.1 343.7 L2005.1 372.6 Q1979.4 369 1953.7 372.6 Z" fill="url(#mg)" stroke="#033205" stroke-width="1.2"/><use href="#chair" transform="translate(2043.8 384.1)"/><rect x="2012" y="337.8" width="63.6" height="46.8" fill="url(#dk)"/><rect x="2012" y="337.8" width="63.6" height="46.8" fill="url(#dv)"/><use href="#stG" x="2043.8" y="372.8"/><path d="M2018.1 343.7 Q2043.8 347.9 2069.5 343.7 L2069.5 372.6 Q2043.8 369 2018.1 372.6 Z" fill="url(#mg)" stroke="#033205" stroke-width="1.2"/><use href="#chair" transform="translate(2063.1 521.6) rotate(90) scale(.968 1)"/><rect x="2062.6" y="490.4" width="49.6" height="60.3" fill="url(#dk)"/><rect x="2062.6" y="490.4" width="49.6" height="60.3" fill="url(#dv)"/><use href="#stR" x="2086.6" y="532.2"/><rect x="2060.8" y="503.5" width="51.6" height="28.2" fill="url(#mr)" stroke="#7d0000" stroke-width="1"/><use href="#chair" transform="translate(1957.8 729.1) rotate(180)"/><rect x="1926" y="728.6" width="63.6" height="46.8" fill="url(#dk)"/><rect x="1926" y="728.6" width="63.6" height="46.8" fill="url(#dv)"/><use href="#stR" x="1957.8" y="763.3"/><rect x="1932" y="734.6" width="51.6" height="28.2" fill="url(#mr)" stroke="#7d0000" stroke-width="1"/><use href="#chair" transform="translate(2065 729.1) rotate(180)"/><rect x="2033.2" y="728.6" width="63.6" height="46.8" fill="url(#dk)"/><rect x="2033.2" y="728.6" width="63.6" height="46.8" fill="url(#dv)"/><use href="#stR" x="2065" y="763.3"/><rect x="2039.2" y="734.6" width="51.6" height="28.2" fill="url(#mr)" stroke="#7d0000" stroke-width="1"/><use href="#nrk" x="2065" y="748.7"/><use href="#chair" transform="translate(1979.4 837.2)"/><rect x="1947.6" y="790.9" width="63.6" height="46.8" fill="url(#dk)"/><rect x="1947.6" y="790.9" width="63.6" height="46.8" fill="url(#dv)"/><use href="#stG" x="1979.4" y="825.9"/><path d="M1953.7 796.8 Q1979.4 801 2005.1 796.8 L2005.1 825.7 Q1979.4 822.1 1953.7 825.7 Z" fill="url(#mg)" stroke="#033205" stroke-width="1.2"/><use href="#chair" transform="translate(2043.8 837.2)"/><rect x="2012" y="790.9" width="63.6" height="46.8" fill="url(#dk)"/><rect x="2012" y="790.9" width="63.6" height="46.8" fill="url(#dv)"/><use href="#stG" x="2043.8" y="825.9"/><path d="M2018.1 796.8 Q2043.8 801 2069.5 796.8 L2069.5 825.7 Q2043.8 822.1 2018.1 825.7 Z" fill="url(#mg)" stroke="#033205" stroke-width="1.2"/><use href="#chair" transform="translate(379.5 583.8)"/><rect x="347.7" y="537.5" width="63.6" height="46.8" fill="url(#dk)"/><rect x="347.7" y="537.5" width="63.6" height="46.8" fill="url(#dv)"/><use href="#stG" x="379.5" y="571.4"/><path d="M353.8 542.3 Q379.5 546.5 405.2 542.3 L405.2 571.2 Q379.5 567.6 353.8 571.2 Z" fill="url(#mg)" stroke="#033205" stroke-width="1.2"/><use href="#chair" transform="translate(444.1 583.8)"/><rect x="412.3" y="537.5" width="63.6" height="46.8" fill="url(#dk)"/><rect x="412.3" y="537.5" width="63.6" height="46.8" fill="url(#dv)"/><use href="#stG" x="444.1" y="571.4"/><path d="M418.4 542.3 Q444.1 546.5 469.8 542.3 L469.8 571.2 Q444.1 567.6 418.4 571.2 Z" fill="url(#mg)" stroke="#033205" stroke-width="1.2"/><use href="#chair" transform="translate(508.7 583.8)"/><rect x="476.9" y="537.5" width="63.6" height="46.8" fill="url(#dk)"/><rect x="476.9" y="537.5" width="63.6" height="46.8" fill="url(#dv)"/><use href="#stG" x="508.7" y="571.4"/><path d="M483 542.3 Q508.7 546.5 534.4 542.3 L534.4 571.2 Q508.7 567.6 483 571.2 Z" fill="url(#mg)" stroke="#033205" stroke-width="1.2"/><use href="#chair" transform="translate(360.3 740.8) rotate(-90) scale(.968 1)"/><rect x="311.2" y="709.6" width="49.6" height="60.7" fill="url(#dk)"/><rect x="311.2" y="709.6" width="49.6" height="60.7" fill="url(#dv)"/><use href="#stG" x="336.3" y="751.4"/><path d="M310.6 722.3 Q336.3 726.5 362 722.3 L362 751.2 Q336.3 747.6 310.6 751.2 Z" fill="url(#mg)" stroke="#033205" stroke-width="1.2"/><use href="#chair" transform="translate(360.3 801.9) rotate(-90) scale(.968 1)"/><rect x="311.2" y="770.5" width="49.6" height="60.9" fill="url(#dk)"/><rect x="311.2" y="770.5" width="49.6" height="60.9" fill="url(#dv)"/><use href="#stG" x="336.3" y="812.5"/><path d="M310.6 783.4 Q336.3 787.6 362 783.4 L362 812.3 Q336.3 808.7 310.6 812.3 Z" fill="url(#mg)" stroke="#033205" stroke-width="1.2"/><use href="#chair" transform="translate(360.3 862.9) rotate(-90) scale(.968 1)"/><rect x="311.2" y="831.6" width="49.6" height="60.6" fill="url(#dk)"/><rect x="311.2" y="831.6" width="49.6" height="60.6" fill="url(#dv)"/><use href="#stR" x="336.3" y="873.5"/><rect x="310.5" y="844.8" width="51.6" height="28.2" fill="url(#mr)" stroke="#7d0000" stroke-width="1"/><use href="#chair" transform="translate(539.2 866.5) rotate(180)"/><rect x="507.4" y="866" width="63.6" height="46.8" fill="url(#dk)"/><rect x="507.4" y="866" width="63.6" height="46.8" fill="url(#dv)"/><use href="#stR" x="539.2" y="900.7"/><rect x="513.4" y="872" width="51.6" height="28.2" fill="url(#mr)" stroke="#7d0000" stroke-width="1"/><use href="#chair" transform="translate(787.1 482.3) rotate(90) scale(.968 1)"/><rect x="786.6" y="451" width="49.6" height="60.8" fill="url(#dk)"/><rect x="786.6" y="451" width="49.6" height="60.8" fill="url(#dv)"/><use href="#stG" x="810.6" y="492.9"/><path d="M784.9 463.8 Q810.6 468 836.3 463.8 L836.3 492.7 Q810.6 489.1 784.9 492.7 Z" fill="url(#mg)" stroke="#033205" stroke-width="1.2"/><use href="#chair" transform="translate(787.1 543.6) rotate(90) scale(.968 1)"/><rect x="786.6" y="512.3" width="49.6" height="60.8" fill="url(#dk)"/><rect x="786.6" y="512.3" width="49.6" height="60.8" fill="url(#dv)"/><use href="#stR" x="810.6" y="554.2"/><rect x="784.8" y="525.5" width="51.6" height="28.2" fill="url(#mr)" stroke="#7d0000" stroke-width="1"/><use href="#chair" transform="translate(787.1 604.9) rotate(90) scale(.968 1)"/><rect x="786.6" y="573.6" width="49.6" height="60.8" fill="url(#dk)"/><rect x="786.6" y="573.6" width="49.6" height="60.8" fill="url(#dv)"/><use href="#stR" x="810.6" y="615.5"/><rect x="784.8" y="586.8" width="51.6" height="28.2" fill="url(#mr)" stroke="#7d0000" stroke-width="1"/><use href="#chair" transform="translate(787.1 666.2) rotate(90) scale(.968 1)"/><rect x="786.6" y="634.9" width="49.6" height="60.8" fill="url(#dk)"/><rect x="786.6" y="634.9" width="49.6" height="60.8" fill="url(#dv)"/><use href="#stR" x="810.6" y="676.8"/><rect x="784.8" y="648.1" width="51.6" height="28.2" fill="url(#mr)" stroke="#7d0000" stroke-width="1"/><use href="#val" x="810.6" y="662.2"/><use href="#chair" transform="translate(787.1 727.5) rotate(90) scale(.968 1)"/><rect x="786.6" y="696.2" width="49.6" height="60.8" fill="url(#dk)"/><rect x="786.6" y="696.2" width="49.6" height="60.8" fill="url(#dv)"/><use href="#stR" x="810.6" y="738.1"/><rect x="784.8" y="709.4" width="51.6" height="28.2" fill="url(#mr)" stroke="#7d0000" stroke-width="1"/><use href="#chair" transform="translate(787.1 808.5) rotate(90) scale(.968 1)"/><rect x="786.6" y="776.6" width="49.6" height="60.2" fill="url(#dk)"/><rect x="786.6" y="776.6" width="49.6" height="60.2" fill="url(#dv)"/><use href="#stR" x="810.6" y="819.1"/><rect x="784.8" y="790.4" width="51.6" height="28.2" fill="url(#mr)" stroke="#7d0000" stroke-width="1"/><use href="#chair" transform="translate(1626 483.8) rotate(-90) scale(.968 1)"/><rect x="1576.9" y="452.4" width="49.6" height="60.8" fill="url(#dk)"/><rect x="1576.9" y="452.4" width="49.6" height="60.8" fill="url(#dv)"/><use href="#stR" x="1602" y="494.4"/><rect x="1576.2" y="465.7" width="51.6" height="28.2" fill="url(#mr)" stroke="#7d0000" stroke-width="1"/><use href="#chair" transform="translate(1626 545) rotate(-90) scale(.968 1)"/><rect x="1576.9" y="513.6" width="49.6" height="60.4" fill="url(#dk)"/><rect x="1576.9" y="513.6" width="49.6" height="60.4" fill="url(#dv)"/><use href="#stR" x="1602" y="555.6"/><rect x="1576.2" y="526.9" width="51.6" height="28.2" fill="url(#mr)" stroke="#7d0000" stroke-width="1"/><use href="#chair" transform="translate(1626 684.1) rotate(-90) scale(.968 1)"/><rect x="1576.9" y="652.8" width="49.6" height="60.3" fill="url(#dk)"/><rect x="1576.9" y="652.8" width="49.6" height="60.3" fill="url(#dv)"/><use href="#stR" x="1602" y="694.7"/><rect x="1576.2" y="666" width="51.6" height="28.2" fill="url(#mr)" stroke="#7d0000" stroke-width="1"/><use href="#chair" transform="translate(1626 744.4) rotate(-90) scale(.968 1)"/><rect x="1576.9" y="713.4" width="49.6" height="60.6" fill="url(#dk)"/><rect x="1576.9" y="713.4" width="49.6" height="60.6" fill="url(#dv)"/><use href="#stR" x="1602" y="755"/><rect x="1576.2" y="726.3" width="51.6" height="28.2" fill="url(#mr)" stroke="#7d0000" stroke-width="1"/><use href="#chair" transform="translate(1626 821.1) rotate(-90) scale(.968 1)"/><rect x="1576.9" y="790.6" width="49.6" height="60.8" fill="url(#dk)"/><rect x="1576.9" y="790.6" width="49.6" height="60.8" fill="url(#dv)"/><use href="#stR" x="1602" y="831.7"/><rect x="1576.2" y="803" width="51.6" height="28.2" fill="url(#mr)" stroke="#7d0000" stroke-width="1"/><use href="#chair" transform="translate(1626 883) rotate(-90) scale(.968 1)"/><rect x="1576.9" y="851.8" width="49.6" height="60.4" fill="url(#dk)"/><rect x="1576.9" y="851.8" width="49.6" height="60.4" fill="url(#dv)"/><use href="#stR" x="1602" y="893.6"/><rect x="1576.2" y="864.9" width="51.6" height="28.2" fill="url(#mr)" stroke="#7d0000" stroke-width="1"/><use href="#chair" transform="translate(1755.8 498.7)"/><rect x="1724" y="452.4" width="63.6" height="46.8" fill="url(#dk)"/><rect x="1724" y="452.4" width="63.6" height="46.8" fill="url(#dv)"/><use href="#stR" x="1755.8" y="487.4"/><rect x="1730" y="458.7" width="51.6" height="28.2" fill="url(#mr)" stroke="#7d0000" stroke-width="1"/><use href="#chair" transform="translate(1755.8 699.1)"/><rect x="1724" y="652.8" width="63.6" height="46.8" fill="url(#dk)"/><rect x="1724" y="652.8" width="63.6" height="46.8" fill="url(#dv)"/><use href="#stR" x="1755.8" y="687.8"/><rect x="1730" y="659.1" width="51.6" height="28.2" fill="url(#mr)" stroke="#7d0000" stroke-width="1"/><use href="#chair" transform="translate(1755.4 867.1) rotate(180)"/><rect x="1723.6" y="866.6" width="63.6" height="46.8" fill="url(#dk)"/><rect x="1723.6" y="866.6" width="63.6" height="46.8" fill="url(#dv)"/><use href="#stR" x="1755.4" y="901.3"/><rect x="1729.6" y="872.6" width="51.6" height="28.2" fill="url(#mr)" stroke="#7d0000" stroke-width="1"/><use href="#chair" transform="translate(668.5 1049.7) rotate(-90) scale(.968 1)"/><rect x="619.4" y="1018.8" width="49.6" height="61.2" fill="url(#dk)"/><rect x="619.4" y="1018.8" width="49.6" height="61.2" fill="url(#dv)"/><use href="#stR" x="644.5" y="1060.3"/><rect x="618.7" y="1031.6" width="51.6" height="28.2" fill="url(#mr)" stroke="#7d0000" stroke-width="1"/><use href="#chair" transform="translate(668.5 1111.3) rotate(-90) scale(.968 1)"/><rect x="619.4" y="1080.3" width="49.6" height="60.6" fill="url(#dk)"/><rect x="619.4" y="1080.3" width="49.6" height="60.6" fill="url(#dv)"/><use href="#stR" x="644.5" y="1121.9"/><rect x="618.7" y="1093.2" width="51.6" height="28.2" fill="url(#mr)" stroke="#7d0000" stroke-width="1"/><use href="#chair" transform="translate(1111.7 1049.7) rotate(90) scale(.968 1)"/><rect x="1111.2" y="1018.8" width="49.6" height="61.2" fill="url(#dk)"/><rect x="1111.2" y="1018.8" width="49.6" height="61.2" fill="url(#dv)"/><use href="#stG" x="1135.2" y="1060.3"/><path d="M1109.5 1031.2 Q1135.2 1035.4 1160.9 1031.2 L1160.9 1060.1 Q1135.2 1056.5 1109.5 1060.1 Z" fill="url(#mg)" stroke="#033205" stroke-width="1.2"/><use href="#chair" transform="translate(1111.7 1111.3) rotate(90) scale(.968 1)"/><rect x="1111.2" y="1080.3" width="49.6" height="60.6" fill="url(#dk)"/><rect x="1111.2" y="1080.3" width="49.6" height="60.6" fill="url(#dv)"/><use href="#stG" x="1135.2" y="1121.9"/><path d="M1109.5 1092.8 Q1135.2 1097 1160.9 1092.8 L1160.9 1121.7 Q1135.2 1118.1 1109.5 1121.7 Z" fill="url(#mg)" stroke="#033205" stroke-width="1.2"/><use href="#chair" transform="translate(1225.1 1049.7) rotate(-90) scale(.968 1)"/><rect x="1176" y="1018.8" width="49.6" height="61.2" fill="url(#dk)"/><rect x="1176" y="1018.8" width="49.6" height="61.2" fill="url(#dv)"/><use href="#stG" x="1201.1" y="1060.3"/><path d="M1175.4 1031.2 Q1201.1 1035.4 1226.8 1031.2 L1226.8 1060.1 Q1201.1 1056.5 1175.4 1060.1 Z" fill="url(#mg)" stroke="#033205" stroke-width="1.2"/><use href="#chair" transform="translate(1225.1 1111.2) rotate(-90) scale(.968 1)"/><rect x="1176" y="1080.3" width="49.6" height="61.2" fill="url(#dk)"/><rect x="1176" y="1080.3" width="49.6" height="61.2" fill="url(#dv)"/><use href="#stR" x="1201.1" y="1121.8"/><rect x="1175.3" y="1093.1" width="51.6" height="28.2" fill="url(#mr)" stroke="#7d0000" stroke-width="1"/><use href="#chair" transform="translate(1225.1 1172.7) rotate(-90) scale(.968 1)"/><rect x="1176" y="1141.8" width="49.6" height="61.2" fill="url(#dk)"/><rect x="1176" y="1141.8" width="49.6" height="61.2" fill="url(#dv)"/><use href="#stR" x="1201.1" y="1183.3"/><rect x="1175.3" y="1154.6" width="51.6" height="28.2" fill="url(#mr)" stroke="#7d0000" stroke-width="1"/><use href="#chair" transform="translate(1225.1 1234.2) rotate(-90) scale(.968 1)"/><rect x="1176" y="1203.3" width="49.6" height="61.2" fill="url(#dk)"/><rect x="1176" y="1203.3" width="49.6" height="61.2" fill="url(#dv)"/><use href="#stR" x="1201.1" y="1244.8"/><rect x="1175.3" y="1216.1" width="51.6" height="28.2" fill="url(#mr)" stroke="#7d0000" stroke-width="1"/><use href="#chair" transform="translate(1225.1 1295.7) rotate(-90) scale(.968 1)"/><rect x="1176" y="1264.8" width="49.6" height="60.5" fill="url(#dk)"/><rect x="1176" y="1264.8" width="49.6" height="60.5" fill="url(#dv)"/><use href="#stG" x="1201.1" y="1306.3"/><path d="M1175.4 1277.2 Q1201.1 1281.4 1226.8 1277.2 L1226.8 1306.1 Q1201.1 1302.5 1175.4 1306.1 Z" fill="url(#mg)" stroke="#033205" stroke-width="1.2"/><use href="#chair" transform="translate(2063.9 1049.7) rotate(90) scale(.968 1)"/><rect x="2063.4" y="1018.8" width="49.6" height="61.2" fill="url(#dk)"/><rect x="2063.4" y="1018.8" width="49.6" height="61.2" fill="url(#dv)"/><use href="#stG" x="2087.4" y="1060.3"/><path d="M2061.7 1031.2 Q2087.4 1035.4 2113.1 1031.2 L2113.1 1060.1 Q2087.4 1056.5 2061.7 1060.1 Z" fill="url(#mg)" stroke="#033205" stroke-width="1.2"/><use href="#chair" transform="translate(2063.9 1111.2) rotate(90) scale(.968 1)"/><rect x="2063.4" y="1080.3" width="49.6" height="61.2" fill="url(#dk)"/><rect x="2063.4" y="1080.3" width="49.6" height="61.2" fill="url(#dv)"/><use href="#stG" x="2087.4" y="1121.8"/><path d="M2061.7 1092.7 Q2087.4 1096.9 2113.1 1092.7 L2113.1 1121.6 Q2087.4 1118 2061.7 1121.6 Z" fill="url(#mg)" stroke="#033205" stroke-width="1.2"/><use href="#chair" transform="translate(2063.9 1172.7) rotate(90) scale(.968 1)"/><rect x="2063.4" y="1141.8" width="49.6" height="61.2" fill="url(#dk)"/><rect x="2063.4" y="1141.8" width="49.6" height="61.2" fill="url(#dv)"/><use href="#stR" x="2087.4" y="1183.3"/><rect x="2061.6" y="1154.6" width="51.6" height="28.2" fill="url(#mr)" stroke="#7d0000" stroke-width="1"/><use href="#val" x="2087.4" y="1168.7"/><use href="#chair" transform="translate(2063.9 1234.2) rotate(90) scale(.968 1)"/><rect x="2063.4" y="1203.3" width="49.6" height="61.2" fill="url(#dk)"/><rect x="2063.4" y="1203.3" width="49.6" height="61.2" fill="url(#dv)"/><use href="#stG" x="2087.4" y="1244.8"/><path d="M2061.7 1215.7 Q2087.4 1219.9 2113.1 1215.7 L2113.1 1244.6 Q2087.4 1241 2061.7 1244.6 Z" fill="url(#mg)" stroke="#033205" stroke-width="1.2"/><use href="#chair" transform="translate(2063.9 1295.7) rotate(90) scale(.968 1)"/><rect x="2063.4" y="1264.8" width="49.6" height="60.5" fill="url(#dk)"/><rect x="2063.4" y="1264.8" width="49.6" height="60.5" fill="url(#dv)"/><use href="#stR" x="2087.4" y="1306.3"/><rect x="2061.6" y="1277.6" width="51.6" height="28.2" fill="url(#mr)" stroke="#7d0000" stroke-width="1"/><use href="#chair" transform="translate(1429 1065.5)"/><rect x="1397.2" y="1019.2" width="63.6" height="46.8" fill="url(#dk)"/><rect x="1397.2" y="1019.2" width="63.6" height="46.8" fill="url(#dv)"/><use href="#stR" x="1429" y="1053.5"/><rect x="1403.2" y="1024.8" width="51.6" height="28.2" fill="url(#mr)" stroke="#7d0000" stroke-width="1"/><use href="#chair" transform="translate(1429 1237.6)"/><rect x="1397.2" y="1191.3" width="63.6" height="46.8" fill="url(#dk)"/><rect x="1397.2" y="1191.3" width="63.6" height="46.8" fill="url(#dv)"/><use href="#stG" x="1429" y="1218.6"/><path d="M1403.3 1189.5 Q1429 1193.7 1454.7 1189.5 L1454.7 1218.4 Q1429 1214.8 1403.3 1218.4 Z" fill="url(#mg)" stroke="#033205" stroke-width="1.2"/><use href="#chair" transform="translate(1660.3 1065.5)"/><rect x="1628.5" y="1019.2" width="63.6" height="46.8" fill="url(#dk)"/><rect x="1628.5" y="1019.2" width="63.6" height="46.8" fill="url(#dv)"/><use href="#stG" x="1660.3" y="1053.5"/><path d="M1634.6 1024.4 Q1660.3 1028.6 1686 1024.4 L1686 1053.3 Q1660.3 1049.7 1634.6 1053.3 Z" fill="url(#mg)" stroke="#033205" stroke-width="1.2"/><use href="#chair" transform="translate(1660.3 1237.6)"/><rect x="1628.5" y="1191.3" width="63.6" height="46.8" fill="url(#dk)"/><rect x="1628.5" y="1191.3" width="63.6" height="46.8" fill="url(#dv)"/><use href="#stR" x="1660.3" y="1218.6"/><rect x="1634.5" y="1189.9" width="51.6" height="28.2" fill="url(#mr)" stroke="#7d0000" stroke-width="1"/><use href="#chair" transform="translate(1835.2 1065.5)"/><rect x="1803.4" y="1019.2" width="63.6" height="46.8" fill="url(#dk)"/><rect x="1803.4" y="1019.2" width="63.6" height="46.8" fill="url(#dv)"/><use href="#stR" x="1835.2" y="1053.5"/><rect x="1809.4" y="1024.8" width="51.6" height="28.2" fill="url(#mr)" stroke="#7d0000" stroke-width="1"/><use href="#chair" transform="translate(1835.2 1237.6)"/><rect x="1803.4" y="1191.3" width="63.6" height="46.8" fill="url(#dk)"/><rect x="1803.4" y="1191.3" width="63.6" height="46.8" fill="url(#dv)"/><use href="#stG" x="1835.2" y="1218.6"/><path d="M1809.5 1189.5 Q1835.2 1193.7 1860.9 1189.5 L1860.9 1218.4 Q1835.2 1214.8 1809.5 1218.4 Z" fill="url(#mg)" stroke="#033205" stroke-width="1.2"/></g><g class="sn" filter="url(#ts)"><text x="439.9" y="49.9">020</text><text x="439.9" y="110.9">019</text><text x="439.9" y="172">018</text><text x="439.9" y="233.1">017</text><text x="439.9" y="294.1">016</text><text x="494.3" y="49.9">015</text><text x="494.3" y="110.9">014</text><text x="494.3" y="172">013</text><text x="494.3" y="233.1">012</text><text x="494.3" y="294.1">011</text><text x="653.9" y="49.9">010</text><text x="653.9" y="110.9">009</text><text x="653.9" y="172">008</text><text x="653.9" y="233.1">007</text><text x="653.9" y="294.1">006</text><text x="708.2" y="110.9">004</text><text x="708.2" y="172">003</text><text x="708.2" y="294.1">001</text><text x="875.6" y="56.8">067</text><text x="1051.8" y="56.8">068</text><text x="1228" y="56.8">069</text><text x="1404" y="56.8">070</text><text x="1581.8" y="56.8">071</text><text x="1757.9" y="56.8">072</text><text x="1406.7" y="242.6">065</text><text x="1406.7" y="303.1">066</text><text x="1591.6" y="324.2">064</text><text x="1673.7" y="324.2">063</text><text x="1979.7" y="41">073</text><text x="2044.1" y="41">074</text><text x="1979.7" y="216.8">028</text><text x="2044.1" y="216.8">029</text><text x="1979.7" y="365.4">030</text><text x="2044.1" y="365.4">031</text><text x="2086.9" y="524.8">032</text><text x="1958.1" y="755.9">034</text><text x="1979.7" y="818.5">035</text><text x="2044.1" y="818.5">036</text><text x="379.9" y="564">021</text><text x="444.5" y="564">022</text><text x="509.1" y="564">023</text><text x="336.7" y="744">026</text><text x="336.7" y="805.1">025</text><text x="336.7" y="866.1">024</text><text x="539.5" y="893.3">027</text><text x="811" y="485.5">051</text><text x="811" y="546.8">052</text><text x="811" y="608.1">053</text><text x="811" y="730.7">055</text><text x="811" y="811.7">056</text><text x="1602.3" y="487">037</text><text x="1602.3" y="548.2">038</text><text x="1602.3" y="687.3">039</text><text x="1602.3" y="747.6">040</text><text x="1602.3" y="824.3">044</text><text x="1602.3" y="886.2">045</text><text x="1756.1" y="480">041</text><text x="1756.1" y="680.4">042</text><text x="1755.7" y="893.9">043</text><text x="644.8" y="1052.9">083</text><text x="644.8" y="1114.5">084</text><text x="1135.5" y="1052.9">081</text><text x="1135.5" y="1114.5">082</text><text x="1201.4" y="1052.9">046</text><text x="1201.4" y="1114.4">047</text><text x="1201.4" y="1175.9">048</text><text x="1201.4" y="1237.4">049</text><text x="1201.4" y="1298.9">050</text><text x="2087.8" y="1052.9">057</text><text x="2087.8" y="1114.4">058</text><text x="2087.8" y="1237.4">060</text><text x="2087.8" y="1298.9">061</text><text x="1429.3" y="1046.1">079</text><text x="1429.3" y="1211.2">080</text><text x="1660.6" y="1046.1">078</text><text x="1660.6" y="1211.2">077</text><text x="1835.5" y="1046.1">076</text><text x="1835.5" y="1211.2">075</text></g><g filter="url(#ls)" class="zh" stroke="#fff" stroke-width=".45"><text font-size="27"><tspan x="986.1" y="38.3">单</tspan><tspan x="986.1" y="66.9">人</tspan><tspan x="986.1" y="95.5">间</tspan></text><text font-size="27"><tspan x="1162.5" y="38.3">单</tspan><tspan x="1162.5" y="66.9">人</tspan><tspan x="1162.5" y="95.5">间</tspan></text><text font-size="27"><tspan x="1339.1" y="38.3">单</tspan><tspan x="1339.1" y="66.9">人</tspan><tspan x="1339.1" y="95.5">间</tspan></text><text font-size="27"><tspan x="1514.5" y="38.3">单</tspan><tspan x="1514.5" y="66.9">人</tspan><tspan x="1514.5" y="95.5">间</tspan></text><text font-size="27"><tspan x="1692.1" y="38.3">单</tspan><tspan x="1692.1" y="66.9">人</tspan><tspan x="1692.1" y="95.5">间</tspan></text><text font-size="27"><tspan x="1868.1" y="38.3">单</tspan><tspan x="1868.1" y="66.9">人</tspan><tspan x="1868.1" y="95.5">间</tspan></text><text x="1917.6" y="119.9" font-size="24" textLength="196.5" lengthAdjust="spacing">豪华2k oled240</text><text x="1967.8" y="158.3" font-size="28.5" letter-spacing="1">双人间</text><text x="1967.8" y="316.9" font-size="28.5" letter-spacing="1">双人间</text><text x="1967.8" y="465.9" font-size="28.5" letter-spacing="1">双人间</text><text x="1986.2" y="910.6" font-size="28.5" letter-spacing="1">双人间</text><text x="1913.2" y="550.2" font-size="28.5" letter-spacing=".5">单人间</text><text x="1913.8" y="652.9" font-size="28.5" letter-spacing=".5">单人间</text><text x="2024.2" y="652.9" font-size="28.5" letter-spacing=".5">单人间</text><text font-size="28"><tspan x="1513.5" y="258.3">双</tspan><tspan x="1513.5" y="289.1">人</tspan><tspan x="1513.5" y="319.9">间</tspan></text><text font-size="27"><tspan x="1555.5" y="210.4">单</tspan><tspan x="1555.5" y="238.7">人</tspan><tspan x="1555.5" y="267">间</tspan></text><text font-size="27"><tspan x="1637.5" y="210.4">单</tspan><tspan x="1637.5" y="238.7">人</tspan><tspan x="1637.5" y="267">间</tspan></text><text font-size="27"><tspan x="1720" y="210.4">单</tspan><tspan x="1720" y="238.7">人</tspan><tspan x="1720" y="267">间</tspan></text><text x="529.5" y="375.4" font-size="27.5" letter-spacing="1.85">大厅区</text><text x="401.6" y="672.9" font-size="28.5" letter-spacing=".5">三人间</text><text font-size="28"><tspan x="688.6" y="587.3">五</tspan><tspan x="688.6" y="615.6">人</tspan><tspan x="688.6" y="643.9">间</tspan></text><text font-size="28"><tspan x="451.6" y="784.3">三</tspan><tspan x="451.6" y="812.6">人</tspan><tspan x="451.6" y="840.9">间</tspan></text><text x="498.1" y="793.9" font-size="28.5" letter-spacing=".5">单人间</text><text x="672.2" y="837.6" font-size="28.5" letter-spacing=".5">单人间</text><text font-size="28"><tspan x="1679.5" y="494.9">双</tspan><tspan x="1679.5" y="523.2">人</tspan><tspan x="1679.5" y="551.5">间</tspan></text><text font-size="28"><tspan x="1679.5" y="699.8">双</tspan><tspan x="1679.5" y="727.8">人</tspan><tspan x="1679.5" y="755.8">间</tspan></text><text font-size="28"><tspan x="1679.5" y="830.9">双</tspan><tspan x="1679.5" y="859.2">人</tspan><tspan x="1679.5" y="887.5">间</tspan></text><text x="1719.8" y="572.9" font-size="28.5" letter-spacing=".5">单人间</text><text x="1719.8" y="771.1" font-size="28.5" letter-spacing=".5">单人间</text><text x="1719.8" y="818.9" font-size="28.5" letter-spacing=".5">单人间</text><text font-size="38"><tspan x="663.5" y="1204.5">电</tspan><tspan x="663.5" y="1242.9">竞</tspan><tspan x="663.5" y="1281.3">房</tspan></text><text font-size="38"><tspan x="1079.3" y="1204.5">电</tspan><tspan x="1079.3" y="1242.9">竞</tspan><tspan x="1079.3" y="1281.3">房</tspan></text><text font-size="28"><tspan x="1292.7" y="1151.4">五</tspan><tspan x="1292.7" y="1181.6">人</tspan><tspan x="1292.7" y="1211.8">间</tspan></text><text font-size="28"><tspan x="1946.6" y="1151.4">五</tspan><tspan x="1946.6" y="1181.6">人</tspan><tspan x="1946.6" y="1211.8">间</tspan></text><text x="1355" y="1173.2" font-size="31" letter-spacing="1.5">胶囊包</text><text x="1355" y="1341.8" font-size="31" letter-spacing="1.5">胶囊包</text><text x="1583.4" y="1173.2" font-size="31" letter-spacing="1.5">胶囊包</text><text x="1583.4" y="1341.8" font-size="31" letter-spacing="1.5">胶囊包</text><text x="1815.8" y="1173.2" font-size="31" letter-spacing="1.5">胶囊包</text><text x="1815.8" y="1341.8" font-size="31" letter-spacing="1.5">胶囊包</text></g><g><use href="#rog" x="928.8" y="40.2"/><use href="#rog" x="1107" y="40.2"/><use href="#agon" x="1288" y="37.7"/><use href="#agon" x="1464.2" y="37.7"/><use href="#agon" x="722.6" y="465.2"/><use href="#agon" x="722.6" y="526.5"/><use href="#agon" x="722.6" y="587.8"/><use href="#agon" x="722.6" y="649.1"/><use href="#agon" x="722.6" y="710.4"/><use href="#zow" x="1638.2" y="40.4"/><use href="#zow" x="1817.8" y="40.4"/><use href="#zow" x="1463.8" y="225.8"/><use href="#zow" x="1463.8" y="286.2"/><use href="#zow" x="1591.3" y="242.5"/><use href="#zow" x="1673.4" y="242.5"/><use href="#zow" x="1755.6" y="242.5"/><use href="#zow" x="2001.6" y="1035.6"/><use href="#zow" x="2001.6" y="1097.1"/><use href="#zow" x="2001.6" y="1158.6"/><use href="#zow" x="2001.6" y="1220.1"/><use href="#zow" x="2001.6" y="1281.6"/><rect x="884.6" y="234.4" width="92" height="33.8" fill="#031030" stroke="#0d3a78" stroke-width=".8"/><rect x="973" y="240.5" width="3.4" height="23" fill="#2b86d6"/><rect x="883.4" y="233.4" width="1.2" height="16.9" fill="#3c8fd0"/><path d="M881.1 253 v17.9 h15.6" fill="none" stroke="#1f6fc0" stroke-width="1.6"/><path d="M900.2 269.8 h71.8" stroke="#16539a" stroke-width="1.2"/><path d="M888.6 232.4 h55.2 l4 -3 h20.2" fill="none" stroke="#16539a" stroke-width="1" stroke-opacity=".55"/><text class="zh" x="889" y="261" font-size="25.5" letter-spacing=".9">操作间</text><rect x="905.4" y="460.6" width="100.4" height="34.8" fill="#031030" stroke="#0d3a78" stroke-width=".8"/><rect x="1002.2" y="466.9" width="3.4" height="23.7" fill="#2b86d6"/><rect x="904.2" y="459.6" width="1.2" height="17.4" fill="#3c8fd0"/><path d="M901.9 479.7 v18.4 h17.1" fill="none" stroke="#1f6fc0" stroke-width="1.6"/><path d="M922.5 497 h78.3" stroke="#16539a" stroke-width="1.2"/><path d="M909.4 458.6 h60.2 l4 -3 h22.1" fill="none" stroke="#16539a" stroke-width="1" stroke-opacity=".55"/><text class="zh" x="910.3" y="488.4" font-size="27.5" letter-spacing="2">商品区</text><rect x="1252" y="431.8" width="98.2" height="34.8" fill="#031030" stroke="#0d3a78" stroke-width=".8"/><rect x="1346.6" y="438.1" width="3.4" height="23.7" fill="#2b86d6"/><rect x="1250.8" y="430.8" width="1.2" height="17.4" fill="#3c8fd0"/><path d="M1248.5 450.9 v18.4 h16.7" fill="none" stroke="#1f6fc0" stroke-width="1.6"/><path d="M1268.7 468.2 h76.6" stroke="#16539a" stroke-width="1.2"/><path d="M1256 429.8 h58.9 l4 -3 h21.6" fill="none" stroke="#16539a" stroke-width="1" stroke-opacity=".55"/><text class="zh" x="1256.8" y="459.7" font-size="27.5" letter-spacing="2">休息区</text><rect x="336.8" y="1046.8" width="94.8" height="31.6" fill="#031030" stroke="#0d3a78" stroke-width=".8"/><rect x="428" y="1052.5" width="3.4" height="21.5" fill="#2b86d6"/><rect x="335.6" y="1045.8" width="1.2" height="15.8" fill="#3c8fd0"/><path d="M333.3 1064.2 v16.8 h16.1" fill="none" stroke="#1f6fc0" stroke-width="1.6"/><path d="M352.9 1080 h73.9" stroke="#16539a" stroke-width="1.2"/><path d="M340.8 1044.8 h56.9 l4 -3 h20.9" fill="none" stroke="#16539a" stroke-width="1" stroke-opacity=".55"/><text class="zh" x="342" y="1072.5" font-size="26" letter-spacing="1.2">淋浴间</text><rect x="359.4" y="1234.8" width="61.6" height="29.2" fill="#031030" stroke="#0d3a78" stroke-width=".8"/><rect x="417.4" y="1240.1" width="3.4" height="19.9" fill="#2b86d6"/><rect x="358.2" y="1233.8" width="1.2" height="14.6" fill="#3c8fd0"/><path d="M355.9 1250.9 v15.6 h10.5" fill="none" stroke="#1f6fc0" stroke-width="1.6"/><path d="M369.9 1265.6 h48" stroke="#16539a" stroke-width="1.2"/><path d="M363.4 1232.8 h37 l4 -3 h13.6" fill="none" stroke="#16539a" stroke-width="1" stroke-opacity=".55"/><text class="zh" x="364.4" y="1257.6" font-size="21.6" letter-spacing="3.1">男卫</text><rect x="320.6" y="937" width="31.4" height="82.6" fill="#031030" stroke="#0d3a78" stroke-width=".8"/><rect x="324.4" y="1021.2" width="23.9" height="2.2" fill="#2b86d6"/><path d="M322.6 935.4 h14.1" stroke="#2b7ac8" stroke-width="1.2"/><path d="M319 939 v74.3" stroke="#1a5aa8" stroke-width="1"/><path d="M353.6 943 v70.2" stroke="#1a5aa8" stroke-width="1"/><text class="zh" font-size="23"><tspan x="324.8" y="961.2">洗</tspan><tspan x="324.8" y="986">衣</tspan><tspan x="324.8" y="1010.8">房</tspan></text><rect x="456.6" y="929.2" width="31.4" height="84.6" fill="#031030" stroke="#0d3a78" stroke-width=".8"/><rect x="460.4" y="1015.4" width="23.9" height="2.2" fill="#2b86d6"/><path d="M458.6 927.6 h14.1" stroke="#2b7ac8" stroke-width="1.2"/><path d="M455 931.2 v76.1" stroke="#1a5aa8" stroke-width="1"/><path d="M489.6 935.2 v71.9" stroke="#1a5aa8" stroke-width="1"/><text class="zh" font-size="23"><tspan x="460.8" y="954.4">保</tspan><tspan x="460.8" y="979.2">洁</tspan><tspan x="460.8" y="1004">间</tspan></text><rect x="535.2" y="1223" width="29.4" height="49.8" fill="#031030" stroke="#0d3a78" stroke-width=".8"/><rect x="538.7" y="1274.4" width="22.3" height="2.2" fill="#2b86d6"/><path d="M537.2 1221.4 h13.2" stroke="#2b7ac8" stroke-width="1.2"/><path d="M533.6 1225 v44.8" stroke="#1a5aa8" stroke-width="1"/><path d="M566.2 1229 v42.3" stroke="#1a5aa8" stroke-width="1"/><text class="zh" font-size="20.6"><tspan x="539.6" y="1244">女</tspan><tspan x="539.6" y="1265.4">卫</tspan></text><rect x="925.6" y="664.2" width="39.8" height="121" fill="#031030" stroke="#0d3a78" stroke-width=".8"/><rect x="930.4" y="786.8" width="30.2" height="2.2" fill="#2b86d6"/><path d="M927.6 662.6 h17.9" stroke="#2b7ac8" stroke-width="1.2"/><path d="M924 666.2 v108.9" stroke="#1a5aa8" stroke-width="1"/><path d="M967 670.2 v102.8" stroke="#1a5aa8" stroke-width="1"/><text class="zh" font-size="24.4"><tspan x="932.8" y="694">安</tspan><tspan x="932.8" y="719">全</tspan><tspan x="932.8" y="744">出</tspan><tspan x="932.8" y="769">口</tspan></text><rect x="1465.5" y="664.2" width="37.3" height="121" fill="#031030" stroke="#0d3a78" stroke-width=".8"/><rect x="1470" y="786.8" width="28.3" height="2.2" fill="#2b86d6"/><path d="M1467.5 662.6 h16.8" stroke="#2b7ac8" stroke-width="1.2"/><path d="M1463.9 666.2 v108.9" stroke="#1a5aa8" stroke-width="1"/><path d="M1504.4 670.2 v102.8" stroke="#1a5aa8" stroke-width="1"/><text class="zh" font-size="24.4"><tspan x="1471.4" y="694">安</tspan><tspan x="1471.4" y="719">全</tspan><tspan x="1471.4" y="744">出</tspan><tspan x="1471.4" y="769">口</tspan></text><path d="M1059 222 H1210.3 L1221.4 238.6 V282.2 H1068.4 L1059 264.8 Z" fill="url(#pbh)"/><path d="M1061 227.5 L1068.6 224.4 L1070.6 228 H1158.6 L1161 225.4 H1174 L1176.4 228 H1206.6 L1214.6 240 V244 L1216.4 245 V258 L1214.6 259 V274.4 H1202 L1199.6 277 H1099 L1096.4 272.6 H1067.2 L1061 261.6 Z" fill="url(#pf)"/><path d="M1068.4 275.6 l1.4 3.6 M1071.6 275.6 l1.4 3.6 M1074.8 275.6 l1.4 3.6 M1078 275.6 l1.4 3.6 M1081.2 275.6 l1.4 3.6 M1084.4 275.6 l1.4 3.6 M1087.6 275.6 l1.4 3.6" stroke="#6a2a86" stroke-width="1.2"/><path d="M1217.6 245 v1.6 M1217.6 248.6 v1.6 M1217.6 252.2 v1.6 M1217.6 255.8 v1.6" stroke="#123c9a" stroke-width="1.6"/><text class="zh" transform="translate(1064.6 268.1) scale(1.1399 1)" x="0" y="0" font-size="38.6" letter-spacing="6.3">服务台</text><path d="M1122.2 669.4 H1165.8 V832.8 L1146.6 845.8 H1103.6 V680.2 Z" fill="url(#pbv)"/><path d="M1124.4 672 H1164 V679 L1160.4 681.4 V778.4 L1162.4 780.4 V796 L1158.8 798.6 V832 L1154.6 837 H1146.4 L1143.6 840.4 H1109 V823.6 L1106 821 V716.8 L1111.6 712 V680.6 Z" fill="url(#pf)"/><path d="M1104.6 685.6 l5.4 -2 M1104.6 690.8 l5.4 -2 M1104.6 696 l5.4 -2 M1104.6 701.2 l5.4 -2 M1104.6 706.4 l5.4 -2" stroke="#5a2a8a" stroke-width="1.5"/><path d="M1128.6 842.6 h1.8 M1132.2 842.6 h1.8 M1135.8 842.6 h1.8 M1139.4 842.6 h1.8" stroke="#123c9a" stroke-width="1.8"/><text class="zh" transform="translate(1114.4 0) scale(1.0989 1)" font-size="35.4"><tspan x="0" y="716.1">主</tspan><tspan x="0" y="753.2">出</tspan><tspan x="0" y="790.3">入</tspan><tspan x="0" y="827.4">口</tspan></text><path d="M1134 520.3 L1169.1 535.9 V547.1 L1134 531.4 L1098.9 547.1 V535.9 Z" fill="none" stroke="#ff0d0d" stroke-width="3" stroke-linejoin="miter"/><path d="M1134 540.6 L1170.6 557.2 V570.8 L1134 554.2 L1097.4 570.8 V557.2 Z" fill="#ff0d0d"/><path d="M1134 564.7 L1169.1 580.3 V591.5 L1134 575.8 L1098.9 591.5 V580.3 Z" fill="none" stroke="#ff0d0d" stroke-width="3" stroke-linejoin="miter"/><path d="M1134 585 L1170.6 601.6 V615.2 L1134 598.6 L1097.4 615.2 V601.6 Z" fill="#ff0d0d"/><path d="M1134 609.1 L1169.1 624.7 V635.9 L1134 620.2 L1098.9 635.9 V624.7 Z" fill="none" stroke="#ff0d0d" stroke-width="3" stroke-linejoin="miter"/><path d="M943.6 809.4 L973 836.6 V854.2 L953 836 V880.6 H934.2 V836 L914.8 854.2 V836.6 Z" fill="#22ff22"/><path d="M1473.4 558.8 H1491.6 V608 L1512.2 589 V606.6 L1482.6 635.4 L1453.2 606.6 V589 L1473.4 608 Z" fill="#22ff22"/><rect x="1243.4" y="622.8" width="127.8" height="121.6" rx="12" ry="12" fill="none" stroke="#fff" stroke-width="9.2"/><rect x="1261.8" y="634.4" width="15.6" height="97.2" fill="#fff"/><rect x="1336.5" y="634.4" width="15.6" height="97.2" fill="#fff"/><rect x="1285" y="656.7" width="44.6" height="52.8" fill="none" stroke="#fff" stroke-width="5.4"/><path d="M1307.3 654 V637.4 M1298.7 645.4 L1307.3 636.8 L1315.9 645.4" fill="none" stroke="#fff" stroke-width="4.6" stroke-linejoin="miter"/><path d="M1307.3 712.2 V728.6 M1298.7 720.6 L1307.3 729.2 L1315.9 720.6" fill="none" stroke="#fff" stroke-width="4.6" stroke-linejoin="miter"/><circle cx="1300.4" cy="663.2" r="2.9" fill="#fff"/><path d="M1295.2 667.6 h9.6 l6.6 6.4 l5 -2 l.8 1.8 l-6.4 3.4 l-4.6 -4.2 v30.4 h-3.6 v-18.6 h-1.6 v18.6 h-3.6 v-20.6 h-1.4 v-13 Z" fill="#fff"/><rect x="1318" y="664.8" width="2.6" height="2.2" fill="#fff"/><rect x="1318" y="668.4" width="2.6" height="2.2" fill="#fff"/><rect x="1318" y="672" width="2.6" height="2.2" fill="#fff"/><rect x="1318" y="675.6" width="2.6" height="2.2" fill="#fff"/><rect x="1243.4" y="780" width="127.8" height="120.8" rx="12" ry="12" fill="none" stroke="#fff" stroke-width="9.2"/><rect x="1261.8" y="791.6" width="15.6" height="96.4" fill="#fff"/><rect x="1336.5" y="791.6" width="15.6" height="96.4" fill="#fff"/><rect x="1285" y="813.5" width="44.6" height="52.8" fill="none" stroke="#fff" stroke-width="5.4"/><path d="M1307.3 810.8 V794.6 M1298.7 802.6 L1307.3 794 L1315.9 802.6" fill="none" stroke="#fff" stroke-width="4.6" stroke-linejoin="miter"/><path d="M1307.3 869 V885 M1298.7 877 L1307.3 885.6 L1315.9 877" fill="none" stroke="#fff" stroke-width="4.6" stroke-linejoin="miter"/><circle cx="1300.4" cy="820" r="2.9" fill="#fff"/><path d="M1295.2 824.4 h9.6 l6.6 6.4 l5 -2 l.8 1.8 l-6.4 3.4 l-4.6 -4.2 v30.4 h-3.6 v-18.6 h-1.6 v18.6 h-3.6 v-20.6 h-1.4 v-13 Z" fill="#fff"/><rect x="1318" y="821.6" width="2.6" height="2.2" fill="#fff"/><rect x="1318" y="825.2" width="2.6" height="2.2" fill="#fff"/><rect x="1318" y="828.8" width="2.6" height="2.2" fill="#fff"/><rect x="1318" y="832.4" width="2.6" height="2.2" fill="#fff"/><circle cx="1311.8" cy="497" r="23.8" fill="url(#tb)"/><use href="#ych" transform="translate(1238.4 497)"/><use href="#ych" transform="translate(1384.8 497) scale(-1 1)"/><use href="#qr" x="1416.8" y="344"/><use href="#qr" x="644.8" y="886.2"/><text x="1410.1" y="464.7" font-family="Liberation Sans,Noto Sans CJK SC,sans-serif" font-weight="900" font-size="25" letter-spacing=".2" fill="#fff" stroke="#000" stroke-width="2.6" stroke-linejoin="round" paint-order="stroke">长按识别</text><text x="1410.1" y="495.7" font-family="Liberation Sans,Noto Sans CJK SC,sans-serif" font-weight="900" font-size="25" letter-spacing=".2" fill="#fff" stroke="#000" stroke-width="2.6" stroke-linejoin="round" paint-order="stroke">或扫一扫</text><text x="638.3" y="1006.9" font-family="Liberation Sans,Noto Sans CJK SC,sans-serif" font-weight="900" font-size="25" letter-spacing=".2" fill="#fff" stroke="#000" stroke-width="2.6" stroke-linejoin="round" paint-order="stroke">长按识别</text><text x="638.3" y="1037.9" font-family="Liberation Sans,Noto Sans CJK SC,sans-serif" font-weight="900" font-size="25" letter-spacing=".2" fill="#fff" stroke="#000" stroke-width="2.6" stroke-linejoin="round" paint-order="stroke">或扫一扫</text><use href="#pos" x="1055.8" y="302.4"/><use href="#pos" x="1145.4" y="302.4"/><use href="#wash" x="367.3" y="926.5"/><use href="#wash" x="367.3" y="976"/><use href="#shower" x="307.6" y="1112.6"/><use href="#shower" x="382.6" y="1112.6"/><use href="#shower" transform="translate(881.2 1288.8) scale(-1 1)"/><use href="#shower" transform="translate(896.2 1288.8)"/><use href="#squat" x="325.2" y="1306.8"/><use href="#squat" x="395.4" y="1306.8"/><use href="#squat" x="468.8" y="1306.8"/><use href="#squat" x="550.6" y="1306.8"/><use href="#wc" x="836.6" y="1235"/><use href="#wc" transform="translate(943.6 1235) scale(-1 1)"/><g fill="#fff"><circle cx="474.6" cy="1218.2" r="5.9"/><path d="M463 1232.4 Q462.8 1226 469 1225.6 L474.6 1229.4 L480.2 1225.6 Q486.4 1226 486.3 1232.4 L482.8 1250.4 L478.8 1252.4 L476.9 1276.6 H472.5 L470.4 1252.4 L466.3 1250.4 Z"/></g><g fill="#fff"><circle cx="589.2" cy="1218.2" r="5.6"/><path d="M582.8 1231 Q582.6 1226 586 1225.8 L589.2 1228.6 L592.4 1225.8 Q596.8 1226 596.8 1231 Q596.8 1236 593.4 1240 Q603 1247 605 1255.4 Q598 1259.8 592.2 1257.6 L591.3 1276.6 H587.5 L586.6 1257.6 Q581 1259.8 574 1255.4 Q576 1247 585.6 1240 Q582.8 1236 582.8 1231Z"/></g><rect x="784.4" y="1015.6" width="99.8" height="8" rx="2" fill="#f4f4f4"/><rect x="785.8" y="1021.6" width="97" height="128.6" rx="4" fill="#e9e9ea"/><rect x="789.4" y="1027.2" width="42.5" height="32" rx="3.4" fill="#fafafa" stroke="#dadadc" stroke-width="1.2"/><rect x="837.9" y="1027.2" width="42.5" height="32" rx="3.4" fill="#fafafa" stroke="#dadadc" stroke-width="1.2"/><rect x="785.8" y="1077.6" width="97" height="70.6" rx="4" fill="url(#quilt)"/><rect x="784.8" y="1061.4" width="99" height="19" rx="2" fill="#fff"/><rect x="786.4" y="1150.6" width="95.8" height="5.6" rx="2.4" fill="#f0f0f0"/><rect x="896.8" y="1015.6" width="99.8" height="8" rx="2" fill="#f4f4f4"/><rect x="898.2" y="1021.6" width="97" height="128.6" rx="4" fill="#e9e9ea"/><rect x="901.8" y="1027.2" width="42.5" height="32" rx="3.4" fill="#fafafa" stroke="#dadadc" stroke-width="1.2"/><rect x="950.3" y="1027.2" width="42.5" height="32" rx="3.4" fill="#fafafa" stroke="#dadadc" stroke-width="1.2"/><rect x="898.2" y="1077.6" width="97" height="70.6" rx="4" fill="url(#quilt)"/><rect x="897.2" y="1061.4" width="99" height="19" rx="2" fill="#fff"/><rect x="898.8" y="1150.6" width="95.8" height="5.6" rx="2.4" fill="#f0f0f0"/><rect x="1331.4" y="1017" width="59" height="5" rx="1.6" fill="#d9d9db"/><rect x="1331.4" y="1021" width="59" height="108.6" rx="4" fill="#d4d4d6"/><rect x="1347.8" y="1028" width="26" height="15.4" rx="1.6" fill="#fbfbfb"/><rect x="1331.4" y="1067" width="59" height="62.6" rx="4" fill="url(#quilt2)"/><rect x="1330.8" y="1053.4" width="60.2" height="15" rx="1.4" fill="#fdfdfd"/><rect x="1331.4" y="1131" width="59" height="4.6" rx="2" fill="#dedee0"/><rect x="1331.4" y="1189.4" width="59" height="5" rx="1.6" fill="#d9d9db"/><rect x="1331.4" y="1193.4" width="59" height="108.6" rx="4" fill="#d4d4d6"/><rect x="1347.8" y="1200.4" width="26" height="15.4" rx="1.6" fill="#fbfbfb"/><rect x="1331.4" y="1239.4" width="59" height="62.6" rx="4" fill="url(#quilt2)"/><rect x="1330.8" y="1225.8" width="60.2" height="15" rx="1.4" fill="#fdfdfd"/><rect x="1331.4" y="1303.4" width="59" height="4.6" rx="2" fill="#dedee0"/><rect x="1563" y="1017" width="59" height="5" rx="1.6" fill="#d9d9db"/><rect x="1563" y="1021" width="59" height="108.6" rx="4" fill="#d4d4d6"/><rect x="1579.4" y="1028" width="26" height="15.4" rx="1.6" fill="#fbfbfb"/><rect x="1563" y="1067" width="59" height="62.6" rx="4" fill="url(#quilt2)"/><rect x="1562.4" y="1053.4" width="60.2" height="15" rx="1.4" fill="#fdfdfd"/><rect x="1563" y="1131" width="59" height="4.6" rx="2" fill="#dedee0"/><rect x="1563" y="1189.4" width="59" height="5" rx="1.6" fill="#d9d9db"/><rect x="1563" y="1193.4" width="59" height="108.6" rx="4" fill="#d4d4d6"/><rect x="1579.4" y="1200.4" width="26" height="15.4" rx="1.6" fill="#fbfbfb"/><rect x="1563" y="1239.4" width="59" height="62.6" rx="4" fill="url(#quilt2)"/><rect x="1562.4" y="1225.8" width="60.2" height="15" rx="1.4" fill="#fdfdfd"/><rect x="1563" y="1303.4" width="59" height="4.6" rx="2" fill="#dedee0"/><rect x="1873.8" y="1017" width="59" height="5" rx="1.6" fill="#d9d9db"/><rect x="1873.8" y="1021" width="59" height="108.6" rx="4" fill="#d4d4d6"/><rect x="1890.2" y="1028" width="26" height="15.4" rx="1.6" fill="#fbfbfb"/><rect x="1873.8" y="1067" width="59" height="62.6" rx="4" fill="url(#quilt2)"/><rect x="1873.2" y="1053.4" width="60.2" height="15" rx="1.4" fill="#fdfdfd"/><rect x="1873.8" y="1131" width="59" height="4.6" rx="2" fill="#dedee0"/><rect x="1873.8" y="1189.4" width="59" height="5" rx="1.6" fill="#d9d9db"/><rect x="1873.8" y="1193.4" width="59" height="108.6" rx="4" fill="#d4d4d6"/><rect x="1890.2" y="1200.4" width="26" height="15.4" rx="1.6" fill="#fbfbfb"/><rect x="1873.8" y="1239.4" width="59" height="62.6" rx="4" fill="url(#quilt2)"/><rect x="1873.2" y="1225.8" width="60.2" height="15" rx="1.4" fill="#fdfdfd"/><rect x="1873.8" y="1303.4" width="59" height="4.6" rx="2" fill="#dedee0"/></g><g><use href="#logo" x="1570.1" y="335.6"/><use href="#logo" x="797.1" y="878.3"/></g><g><g filter="url(#ls)" class="lp"><text x="149" y="250.4" font-size="55.6" text-anchor="middle" textLength="219" lengthAdjust="spacing">15:49:48</text><text x="36.4" y="287.4" font-size="25.2" textLength="138" lengthAdjust="spacing">2025/03/09</text></g><g filter="url(#ls)"><text x="193.3" y="289.1" font-family="Liberation Sans,Noto Sans CJK SC,sans-serif" font-size="25.6" letter-spacing="-.7" fill="#fff">星期日</text></g><rect x="20.4" y="479.4" width="251.4" height="144.4" fill="#04235e" fill-opacity=".55" stroke="#02143a" stroke-width="1.6"/><path d="M80.5 535 L55.5 545.6 M84.5 535 L109.5 545.6" stroke="#0a0a10" stroke-width="2.4" stroke-linecap="round"/><rect x="76.5" y="533.5" width="12" height="10" fill="#1fa022"/><path d="M77.9 535.4 l2 6 l2 -6 M83.1 535.4 l2 6 l2 -6" stroke="#fff" stroke-opacity=".7" stroke-width="1" fill="none"/><path d="M48.5 492.4 Q82.5 498 116.5 492.4 L116.5 534.6 Q82.5 530 48.5 534.6 Z" fill="url(#mg)" stroke="#044d06" stroke-width="1"/><text x="82.5" y="523.3" font-family="Liberation Sans,sans-serif" font-size="28" fill="#fff" text-anchor="middle">30</text><path d="M80.5 605 L55.5 615.6 M84.5 605 L109.5 615.6" stroke="#0a0a10" stroke-width="2.4" stroke-linecap="round"/><rect x="76.5" y="603.5" width="12" height="10" fill="#f01414"/><path d="M77.9 605.4 l2 6 l2 -6 M83.1 605.4 l2 6 l2 -6" stroke="#fff" stroke-opacity=".7" stroke-width="1" fill="none"/><rect x="48.5" y="563.5" width="68" height="40" fill="url(#mr)" stroke="#8a0000" stroke-width="1"/><text x="82.5" y="591.9" font-family="Liberation Sans,sans-serif" font-size="28" fill="#fff" text-anchor="middle">54</text><g filter="url(#ls)"><text class="zh" x="129.4" y="529.3" font-size="42.4" letter-spacing="-.6">空闲中</text><text class="zh" x="127.4" y="596.1" font-size="42.8" letter-spacing="-.4">有客人</text></g><rect x="1" y="823.4" width="289.4" height="247.6" rx="9" fill="#010512"/><use href="#i_val" x="32.6" y="851.2"/><rect x="53.8" y="843.9" width="82" height="14.6" rx="3" fill="#f25a5a"/><text x="142.4" y="857.2" font-family="Liberation Sans,sans-serif" font-size="17" fill="#c9544f">6 / 32%</text><use href="#i_lol" x="32.6" y="883.4"/><rect x="53.8" y="876.1" width="82" height="14.6" rx="3" fill="#ff8d0a"/><text x="142.4" y="889.4" font-family="Liberation Sans,sans-serif" font-size="17" fill="#d98e1c">6 / 32%</text><use href="#i_nrk" x="32.6" y="914.8"/><rect x="53.8" y="907.5" width="41.4" height="14.6" rx="3" fill="#f0b61e"/><text x="101.8" y="920.8" font-family="Liberation Sans,sans-serif" font-size="17" fill="#c9a228">3 / 16%</text><use href="#i_pubg" x="32.6" y="946.4"/><rect x="53.8" y="939.1" width="41.4" height="14.6" rx="3" fill="#66d327"/><text x="101.8" y="952.4" font-family="Liberation Sans,sans-serif" font-size="17" fill="#5aa32a">3 / 16%</text><use href="#i_cf" x="32.6" y="978.2"/><rect x="53.8" y="970.9" width="14" height="14.6" rx="3" fill="#16c97a"/><text x="74.4" y="984.2" font-family="Liberation Sans,sans-serif" font-size="17" fill="#1f9a7a">1 / 5%</text><use href="#i_yj" x="32.6" y="1008.8"/><text x="60.6" y="1014.8" font-family="Liberation Sans,sans-serif" font-size="17" fill="#1f97a4">0 / 0%</text><use href="#i_cs" x="32.6" y="1041.6"/><text x="60.6" y="1047.6" font-family="Liberation Sans,sans-serif" font-size="17" fill="#1f6f9c">0 / 0%</text><g filter="url(#ts)"><text x="12.6" y="1352.8" font-family="Liberation Sans,sans-serif" font-size="14.8" fill="#eaf2ff" textLength="137.4" lengthAdjust="spacingAndGlyphs">255213641.3291.263</text><text x="155" y="1352.6" font-family="Liberation Sans,sans-serif" font-size="10.6" fill="#eaf2ff" textLength="54.6" lengthAdjust="spacingAndGlyphs">03/09 15:49</text><text x="210.4" y="1352.6" font-family="Liberation Sans,Noto Sans CJK SC,sans-serif" font-weight="500" font-size="11" fill="#eaf2ff">上报</text></g><g filter="url(#ts)"><text x="2471" y="1353.5" font-family="Liberation Sans,Noto Sans CJK SC,sans-serif" font-weight="500" font-size="14" fill="#eef4ff">全屏</text><text x="2510.8" y="1353.5" font-family="Liberation Sans,Noto Sans CJK SC,sans-serif" font-weight="500" font-size="14" fill="#eef4ff">刷新</text></g></g>
</svg></div></body></html>
